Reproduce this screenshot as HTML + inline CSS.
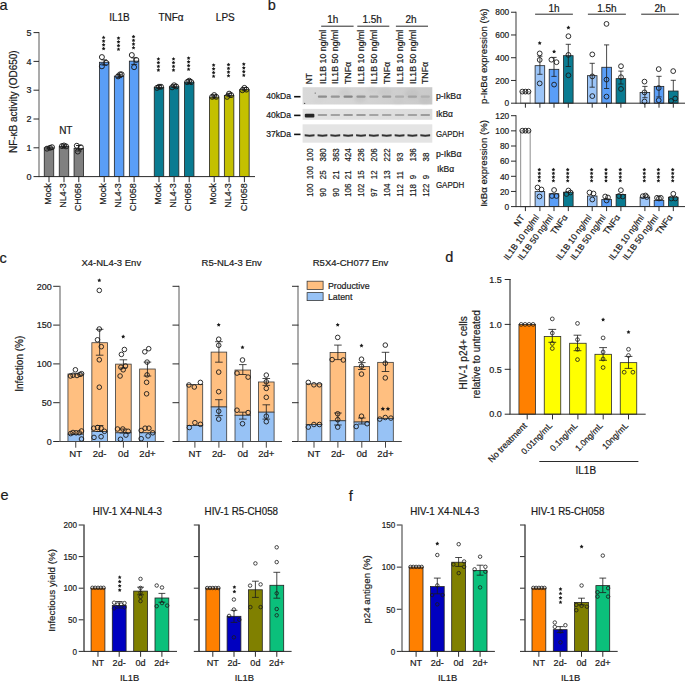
<!DOCTYPE html>
<html><head><meta charset="utf-8"><style>
html,body{margin:0;padding:0;background:#fff;}
svg{display:block;font-family:"Liberation Sans", sans-serif;}
text{stroke:#1a1a1a;stroke-width:0.2px;}
</style></head><body>
<svg width="685" height="681" viewBox="0 0 685 681">
<rect x="0" y="0" width="685" height="681" fill="#fff"/>
<text x="-0.6" y="10.2" font-size="14.5" text-anchor="start" fill="#1a1a1a">a</text>
<text x="267.8" y="9.9" font-size="14.5" text-anchor="start" fill="#1a1a1a">b</text>
<text x="-0.5" y="262.6" font-size="14.5" text-anchor="start" fill="#1a1a1a">c</text>
<text x="445.3" y="262.3" font-size="14.5" text-anchor="start" fill="#1a1a1a">d</text>
<text x="0.4" y="499.7" font-size="14.5" text-anchor="start" fill="#1a1a1a">e</text>
<text x="348.8" y="500.8" font-size="14.5" text-anchor="start" fill="#1a1a1a">f</text>
<rect x="38" y="32.1" width="2" height="145" fill="#ababab"/>
<line x1="33.5" y1="176.6" x2="39" y2="176.6" stroke="#2b2b2b" stroke-width="1"/>
<text x="31.5" y="179.84" font-size="9" text-anchor="end" fill="#1a1a1a">0</text>
<line x1="33.5" y1="147.8" x2="39" y2="147.8" stroke="#2b2b2b" stroke-width="1"/>
<text x="31.5" y="151.04" font-size="9" text-anchor="end" fill="#1a1a1a">1</text>
<line x1="33.5" y1="119" x2="39" y2="119" stroke="#2b2b2b" stroke-width="1"/>
<text x="31.5" y="122.24" font-size="9" text-anchor="end" fill="#1a1a1a">2</text>
<line x1="33.5" y1="90.2" x2="39" y2="90.2" stroke="#2b2b2b" stroke-width="1"/>
<text x="31.5" y="93.44" font-size="9" text-anchor="end" fill="#1a1a1a">3</text>
<line x1="33.5" y1="61.4" x2="39" y2="61.4" stroke="#2b2b2b" stroke-width="1"/>
<text x="31.5" y="64.64" font-size="9" text-anchor="end" fill="#1a1a1a">4</text>
<line x1="33.5" y1="32.6" x2="39" y2="32.6" stroke="#2b2b2b" stroke-width="1"/>
<text x="31.5" y="35.84" font-size="9" text-anchor="end" fill="#1a1a1a">5</text>
<rect x="44.25" y="147.8" width="9.5" height="28.8" fill="#808080" stroke="#222" stroke-width="0.8"/>
<rect x="59.25" y="146.36" width="9.5" height="30.24" fill="#808080" stroke="#222" stroke-width="0.8"/>
<rect x="74.05" y="148.38" width="9.5" height="28.22" fill="#808080" stroke="#222" stroke-width="0.8"/>
<rect x="99.45" y="62.26" width="9.5" height="114.34" fill="#5a9ef7" stroke="#222" stroke-width="0.8"/>
<rect x="114.35" y="76.09" width="9.5" height="100.51" fill="#5a9ef7" stroke="#222" stroke-width="0.8"/>
<rect x="129.35" y="61.11" width="9.5" height="115.49" fill="#5a9ef7" stroke="#222" stroke-width="0.8"/>
<rect x="154.25" y="87.32" width="9.5" height="89.28" fill="#0a7b91" stroke="#222" stroke-width="0.8"/>
<rect x="169.35" y="86.74" width="9.5" height="89.86" fill="#0a7b91" stroke="#222" stroke-width="0.8"/>
<rect x="184.45" y="82.14" width="9.5" height="94.46" fill="#0a7b91" stroke="#222" stroke-width="0.8"/>
<rect x="209.45" y="97.11" width="9.5" height="79.49" fill="#c4c000" stroke="#222" stroke-width="0.8"/>
<rect x="224.35" y="95.38" width="9.5" height="81.22" fill="#c4c000" stroke="#222" stroke-width="0.8"/>
<rect x="239.65" y="89.62" width="9.5" height="86.98" fill="#c4c000" stroke="#222" stroke-width="0.8"/>
<line x1="39" y1="176.6" x2="255" y2="176.6" stroke="#2b2b2b" stroke-width="1"/>
<line x1="49" y1="176.6" x2="49" y2="182.2" stroke="#2b2b2b" stroke-width="1"/>
<line x1="64" y1="176.6" x2="64" y2="182.2" stroke="#2b2b2b" stroke-width="1"/>
<line x1="78.8" y1="176.6" x2="78.8" y2="182.2" stroke="#2b2b2b" stroke-width="1"/>
<line x1="104.2" y1="176.6" x2="104.2" y2="182.2" stroke="#2b2b2b" stroke-width="1"/>
<line x1="119.1" y1="176.6" x2="119.1" y2="182.2" stroke="#2b2b2b" stroke-width="1"/>
<line x1="134.1" y1="176.6" x2="134.1" y2="182.2" stroke="#2b2b2b" stroke-width="1"/>
<line x1="159" y1="176.6" x2="159" y2="182.2" stroke="#2b2b2b" stroke-width="1"/>
<line x1="174.1" y1="176.6" x2="174.1" y2="182.2" stroke="#2b2b2b" stroke-width="1"/>
<line x1="189.2" y1="176.6" x2="189.2" y2="182.2" stroke="#2b2b2b" stroke-width="1"/>
<line x1="214.2" y1="176.6" x2="214.2" y2="182.2" stroke="#2b2b2b" stroke-width="1"/>
<line x1="229.1" y1="176.6" x2="229.1" y2="182.2" stroke="#2b2b2b" stroke-width="1"/>
<line x1="244.4" y1="176.6" x2="244.4" y2="182.2" stroke="#2b2b2b" stroke-width="1"/>
<text font-size="9" text-anchor="end" fill="#1a1a1a" transform="translate(51.1 183.3) rotate(-90)">Mock</text>
<text font-size="9" text-anchor="end" fill="#1a1a1a" transform="translate(66.1 183.3) rotate(-90)">NL4-3</text>
<text font-size="9" text-anchor="end" fill="#1a1a1a" transform="translate(80.9 183.3) rotate(-90)">CH058</text>
<text font-size="9" text-anchor="end" fill="#1a1a1a" transform="translate(106.3 183.3) rotate(-90)">Mock</text>
<text font-size="9" text-anchor="end" fill="#1a1a1a" transform="translate(121.2 183.3) rotate(-90)">NL4-3</text>
<text font-size="9" text-anchor="end" fill="#1a1a1a" transform="translate(136.2 183.3) rotate(-90)">CH058</text>
<text font-size="9" text-anchor="end" fill="#1a1a1a" transform="translate(161.1 183.3) rotate(-90)">Mock</text>
<text font-size="9" text-anchor="end" fill="#1a1a1a" transform="translate(176.2 183.3) rotate(-90)">NL4-3</text>
<text font-size="9" text-anchor="end" fill="#1a1a1a" transform="translate(191.3 183.3) rotate(-90)">CH058</text>
<text font-size="9" text-anchor="end" fill="#1a1a1a" transform="translate(216.3 183.3) rotate(-90)">Mock</text>
<text font-size="9" text-anchor="end" fill="#1a1a1a" transform="translate(231.2 183.3) rotate(-90)">NL4-3</text>
<text font-size="9" text-anchor="end" fill="#1a1a1a" transform="translate(246.5 183.3) rotate(-90)">CH058</text>
<text x="65.8" y="133.5" font-size="10" text-anchor="middle" fill="#1a1a1a">NT</text>
<text x="119.5" y="21" font-size="10" text-anchor="middle" fill="#1a1a1a">IL1B</text>
<text x="171" y="21" font-size="10" text-anchor="middle" fill="#1a1a1a">TNFα</text>
<text x="225.3" y="21" font-size="10" text-anchor="middle" fill="#1a1a1a">LPS</text>
<circle cx="47" cy="148.66" r="2.5" fill="none" stroke="#1a1a1a" stroke-width="0.95"/>
<circle cx="50" cy="147.8" r="2.5" fill="none" stroke="#1a1a1a" stroke-width="0.95"/>
<circle cx="52" cy="147.22" r="2.5" fill="none" stroke="#1a1a1a" stroke-width="0.95"/>
<circle cx="62" cy="146.07" r="2.5" fill="none" stroke="#1a1a1a" stroke-width="0.95"/>
<circle cx="64" cy="145.5" r="2.5" fill="none" stroke="#1a1a1a" stroke-width="0.95"/>
<circle cx="66" cy="146.36" r="2.5" fill="none" stroke="#1a1a1a" stroke-width="0.95"/>
<circle cx="76.8" cy="145.78" r="2.5" fill="none" stroke="#1a1a1a" stroke-width="0.95"/>
<circle cx="80.8" cy="147.22" r="2.5" fill="none" stroke="#1a1a1a" stroke-width="0.95"/>
<circle cx="77.8" cy="151.54" r="2.5" fill="none" stroke="#1a1a1a" stroke-width="0.95"/>
<circle cx="101.9" cy="57.08" r="2.5" fill="none" stroke="#1a1a1a" stroke-width="0.95"/>
<circle cx="106.2" cy="62.84" r="2.5" fill="none" stroke="#1a1a1a" stroke-width="0.95"/>
<circle cx="101.9" cy="66.3" r="2.5" fill="none" stroke="#1a1a1a" stroke-width="0.95"/>
<circle cx="118.1" cy="76.38" r="2.5" fill="none" stroke="#1a1a1a" stroke-width="0.95"/>
<circle cx="120.1" cy="74.36" r="2.5" fill="none" stroke="#1a1a1a" stroke-width="0.95"/>
<circle cx="121.6" cy="74.36" r="2.5" fill="none" stroke="#1a1a1a" stroke-width="0.95"/>
<circle cx="131.8" cy="55.06" r="2.5" fill="none" stroke="#1a1a1a" stroke-width="0.95"/>
<circle cx="136.3" cy="59.96" r="2.5" fill="none" stroke="#1a1a1a" stroke-width="0.95"/>
<circle cx="134.1" cy="67.16" r="2.5" fill="none" stroke="#1a1a1a" stroke-width="0.95"/>
<circle cx="157" cy="87.9" r="2.5" fill="none" stroke="#1a1a1a" stroke-width="0.95"/>
<circle cx="159" cy="86.74" r="2.5" fill="none" stroke="#1a1a1a" stroke-width="0.95"/>
<circle cx="161" cy="86.74" r="2.5" fill="none" stroke="#1a1a1a" stroke-width="0.95"/>
<circle cx="172.1" cy="87.32" r="2.5" fill="none" stroke="#1a1a1a" stroke-width="0.95"/>
<circle cx="174.1" cy="85.3" r="2.5" fill="none" stroke="#1a1a1a" stroke-width="0.95"/>
<circle cx="176.1" cy="86.46" r="2.5" fill="none" stroke="#1a1a1a" stroke-width="0.95"/>
<circle cx="187.2" cy="82.14" r="2.5" fill="none" stroke="#1a1a1a" stroke-width="0.95"/>
<circle cx="189.2" cy="80.7" r="2.5" fill="none" stroke="#1a1a1a" stroke-width="0.95"/>
<circle cx="191.2" cy="82.14" r="2.5" fill="none" stroke="#1a1a1a" stroke-width="0.95"/>
<circle cx="212.2" cy="96.82" r="2.5" fill="none" stroke="#1a1a1a" stroke-width="0.95"/>
<circle cx="214.2" cy="95.1" r="2.5" fill="none" stroke="#1a1a1a" stroke-width="0.95"/>
<circle cx="216.2" cy="96.82" r="2.5" fill="none" stroke="#1a1a1a" stroke-width="0.95"/>
<circle cx="227.1" cy="96.82" r="2.5" fill="none" stroke="#1a1a1a" stroke-width="0.95"/>
<circle cx="229.1" cy="93.66" r="2.5" fill="none" stroke="#1a1a1a" stroke-width="0.95"/>
<circle cx="231.1" cy="95.1" r="2.5" fill="none" stroke="#1a1a1a" stroke-width="0.95"/>
<circle cx="242.4" cy="90.2" r="2.5" fill="none" stroke="#1a1a1a" stroke-width="0.95"/>
<circle cx="244.4" cy="87.9" r="2.5" fill="none" stroke="#1a1a1a" stroke-width="0.95"/>
<circle cx="246.4" cy="89.62" r="2.5" fill="none" stroke="#1a1a1a" stroke-width="0.95"/>
<line x1="104.2" y1="65" x2="104.2" y2="59.9" stroke="#1a1a1a" stroke-width="0.9"/>
<line x1="101.4" y1="59.9" x2="107" y2="59.9" stroke="#1a1a1a" stroke-width="0.9"/>
<line x1="101.4" y1="65" x2="107" y2="65" stroke="#1a1a1a" stroke-width="0.9"/>
<line x1="134.1" y1="64.4" x2="134.1" y2="57.9" stroke="#1a1a1a" stroke-width="0.9"/>
<line x1="131.3" y1="57.9" x2="136.9" y2="57.9" stroke="#1a1a1a" stroke-width="0.9"/>
<line x1="131.3" y1="64.4" x2="136.9" y2="64.4" stroke="#1a1a1a" stroke-width="0.9"/>
<line x1="119.1" y1="77.6" x2="119.1" y2="74.3" stroke="#1a1a1a" stroke-width="0.9"/>
<line x1="116.3" y1="74.3" x2="121.9" y2="74.3" stroke="#1a1a1a" stroke-width="0.9"/>
<line x1="116.3" y1="77.6" x2="121.9" y2="77.6" stroke="#1a1a1a" stroke-width="0.9"/>
<line x1="159" y1="88.2" x2="159" y2="85.6" stroke="#1a1a1a" stroke-width="0.9"/>
<line x1="156.2" y1="85.6" x2="161.8" y2="85.6" stroke="#1a1a1a" stroke-width="0.9"/>
<line x1="156.2" y1="88.2" x2="161.8" y2="88.2" stroke="#1a1a1a" stroke-width="0.9"/>
<line x1="174.1" y1="87.6" x2="174.1" y2="84.8" stroke="#1a1a1a" stroke-width="0.9"/>
<line x1="171.3" y1="84.8" x2="176.9" y2="84.8" stroke="#1a1a1a" stroke-width="0.9"/>
<line x1="171.3" y1="87.6" x2="176.9" y2="87.6" stroke="#1a1a1a" stroke-width="0.9"/>
<line x1="189.2" y1="83.6" x2="189.2" y2="79.6" stroke="#1a1a1a" stroke-width="0.9"/>
<line x1="186.4" y1="79.6" x2="192" y2="79.6" stroke="#1a1a1a" stroke-width="0.9"/>
<line x1="186.4" y1="83.6" x2="192" y2="83.6" stroke="#1a1a1a" stroke-width="0.9"/>
<line x1="214.2" y1="98" x2="214.2" y2="95.2" stroke="#1a1a1a" stroke-width="0.9"/>
<line x1="211.4" y1="95.2" x2="217" y2="95.2" stroke="#1a1a1a" stroke-width="0.9"/>
<line x1="211.4" y1="98" x2="217" y2="98" stroke="#1a1a1a" stroke-width="0.9"/>
<line x1="229.1" y1="96.8" x2="229.1" y2="93.4" stroke="#1a1a1a" stroke-width="0.9"/>
<line x1="226.3" y1="93.4" x2="231.9" y2="93.4" stroke="#1a1a1a" stroke-width="0.9"/>
<line x1="226.3" y1="96.8" x2="231.9" y2="96.8" stroke="#1a1a1a" stroke-width="0.9"/>
<line x1="244.4" y1="90.8" x2="244.4" y2="87.6" stroke="#1a1a1a" stroke-width="0.9"/>
<line x1="241.6" y1="87.6" x2="247.2" y2="87.6" stroke="#1a1a1a" stroke-width="0.9"/>
<line x1="241.6" y1="90.8" x2="247.2" y2="90.8" stroke="#1a1a1a" stroke-width="0.9"/>
<line x1="49" y1="149" x2="49" y2="147" stroke="#1a1a1a" stroke-width="0.9"/>
<line x1="46.2" y1="147" x2="51.8" y2="147" stroke="#1a1a1a" stroke-width="0.9"/>
<line x1="46.2" y1="149" x2="51.8" y2="149" stroke="#1a1a1a" stroke-width="0.9"/>
<line x1="64" y1="147" x2="64" y2="145" stroke="#1a1a1a" stroke-width="0.9"/>
<line x1="61.2" y1="145" x2="66.8" y2="145" stroke="#1a1a1a" stroke-width="0.9"/>
<line x1="61.2" y1="147" x2="66.8" y2="147" stroke="#1a1a1a" stroke-width="0.9"/>
<line x1="78.8" y1="151" x2="78.8" y2="145.5" stroke="#1a1a1a" stroke-width="0.9"/>
<line x1="76" y1="145.5" x2="81.6" y2="145.5" stroke="#1a1a1a" stroke-width="0.9"/>
<line x1="76" y1="151" x2="81.6" y2="151" stroke="#1a1a1a" stroke-width="0.9"/>
<polygon points="103.6,46.6 104.21,47.76 105.5,47.98 104.59,48.92 104.78,50.22 103.6,49.64 102.42,50.22 102.61,48.92 101.7,47.98 102.99,47.76" fill="#1a1a1a"/>
<polygon points="103.6,42.9 104.21,44.06 105.5,44.28 104.59,45.22 104.78,46.52 103.6,45.94 102.42,46.52 102.61,45.22 101.7,44.28 102.99,44.06" fill="#1a1a1a"/>
<polygon points="103.6,39.2 104.21,40.36 105.5,40.58 104.59,41.52 104.78,42.82 103.6,42.24 102.42,42.82 102.61,41.52 101.7,40.58 102.99,40.36" fill="#1a1a1a"/>
<polygon points="103.6,35.5 104.21,36.66 105.5,36.88 104.59,37.82 104.78,39.12 103.6,38.54 102.42,39.12 102.61,37.82 101.7,36.88 102.99,36.66" fill="#1a1a1a"/>
<polygon points="118.5,47.3 119.11,48.46 120.4,48.68 119.49,49.62 119.68,50.92 118.5,50.34 117.32,50.92 117.51,49.62 116.6,48.68 117.89,48.46" fill="#1a1a1a"/>
<polygon points="118.5,43.6 119.11,44.76 120.4,44.98 119.49,45.92 119.68,47.22 118.5,46.64 117.32,47.22 117.51,45.92 116.6,44.98 117.89,44.76" fill="#1a1a1a"/>
<polygon points="118.5,39.9 119.11,41.06 120.4,41.28 119.49,42.22 119.68,43.52 118.5,42.94 117.32,43.52 117.51,42.22 116.6,41.28 117.89,41.06" fill="#1a1a1a"/>
<polygon points="118.5,36.2 119.11,37.36 120.4,37.58 119.49,38.52 119.68,39.82 118.5,39.24 117.32,39.82 117.51,38.52 116.6,37.58 117.89,37.36" fill="#1a1a1a"/>
<polygon points="133.5,45.8 134.11,46.96 135.4,47.18 134.49,48.12 134.68,49.42 133.5,48.84 132.32,49.42 132.51,48.12 131.6,47.18 132.89,46.96" fill="#1a1a1a"/>
<polygon points="133.5,42.1 134.11,43.26 135.4,43.48 134.49,44.42 134.68,45.72 133.5,45.14 132.32,45.72 132.51,44.42 131.6,43.48 132.89,43.26" fill="#1a1a1a"/>
<polygon points="133.5,38.4 134.11,39.56 135.4,39.78 134.49,40.72 134.68,42.02 133.5,41.44 132.32,42.02 132.51,40.72 131.6,39.78 132.89,39.56" fill="#1a1a1a"/>
<polygon points="133.5,34.7 134.11,35.86 135.4,36.08 134.49,37.02 134.68,38.32 133.5,37.74 132.32,38.32 132.51,37.02 131.6,36.08 132.89,35.86" fill="#1a1a1a"/>
<polygon points="158.4,68.1 159.01,69.26 160.3,69.48 159.39,70.42 159.58,71.72 158.4,71.14 157.22,71.72 157.41,70.42 156.5,69.48 157.79,69.26" fill="#1a1a1a"/>
<polygon points="158.4,64.4 159.01,65.56 160.3,65.78 159.39,66.72 159.58,68.02 158.4,67.44 157.22,68.02 157.41,66.72 156.5,65.78 157.79,65.56" fill="#1a1a1a"/>
<polygon points="158.4,60.7 159.01,61.86 160.3,62.08 159.39,63.02 159.58,64.32 158.4,63.74 157.22,64.32 157.41,63.02 156.5,62.08 157.79,61.86" fill="#1a1a1a"/>
<polygon points="158.4,57 159.01,58.16 160.3,58.38 159.39,59.32 159.58,60.62 158.4,60.04 157.22,60.62 157.41,59.32 156.5,58.38 157.79,58.16" fill="#1a1a1a"/>
<polygon points="173.5,68.1 174.11,69.26 175.4,69.48 174.49,70.42 174.68,71.72 173.5,71.14 172.32,71.72 172.51,70.42 171.6,69.48 172.89,69.26" fill="#1a1a1a"/>
<polygon points="173.5,64.4 174.11,65.56 175.4,65.78 174.49,66.72 174.68,68.02 173.5,67.44 172.32,68.02 172.51,66.72 171.6,65.78 172.89,65.56" fill="#1a1a1a"/>
<polygon points="173.5,60.7 174.11,61.86 175.4,62.08 174.49,63.02 174.68,64.32 173.5,63.74 172.32,64.32 172.51,63.02 171.6,62.08 172.89,61.86" fill="#1a1a1a"/>
<polygon points="173.5,57 174.11,58.16 175.4,58.38 174.49,59.32 174.68,60.62 173.5,60.04 172.32,60.62 172.51,59.32 171.6,58.38 172.89,58.16" fill="#1a1a1a"/>
<polygon points="188.6,67.3 189.21,68.46 190.5,68.68 189.59,69.62 189.78,70.92 188.6,70.34 187.42,70.92 187.61,69.62 186.7,68.68 187.99,68.46" fill="#1a1a1a"/>
<polygon points="188.6,63.6 189.21,64.76 190.5,64.98 189.59,65.92 189.78,67.22 188.6,66.64 187.42,67.22 187.61,65.92 186.7,64.98 187.99,64.76" fill="#1a1a1a"/>
<polygon points="188.6,59.9 189.21,61.06 190.5,61.28 189.59,62.22 189.78,63.52 188.6,62.94 187.42,63.52 187.61,62.22 186.7,61.28 187.99,61.06" fill="#1a1a1a"/>
<polygon points="188.6,56.2 189.21,57.36 190.5,57.58 189.59,58.52 189.78,59.82 188.6,59.24 187.42,59.82 187.61,58.52 186.7,57.58 187.99,57.36" fill="#1a1a1a"/>
<polygon points="213.6,74.3 214.21,75.46 215.5,75.68 214.59,76.62 214.78,77.92 213.6,77.34 212.42,77.92 212.61,76.62 211.7,75.68 212.99,75.46" fill="#1a1a1a"/>
<polygon points="213.6,70.6 214.21,71.76 215.5,71.98 214.59,72.92 214.78,74.22 213.6,73.64 212.42,74.22 212.61,72.92 211.7,71.98 212.99,71.76" fill="#1a1a1a"/>
<polygon points="213.6,66.9 214.21,68.06 215.5,68.28 214.59,69.22 214.78,70.52 213.6,69.94 212.42,70.52 212.61,69.22 211.7,68.28 212.99,68.06" fill="#1a1a1a"/>
<polygon points="213.6,63.2 214.21,64.36 215.5,64.58 214.59,65.52 214.78,66.82 213.6,66.24 212.42,66.82 212.61,65.52 211.7,64.58 212.99,64.36" fill="#1a1a1a"/>
<polygon points="228.5,73.8 229.11,74.96 230.4,75.18 229.49,76.12 229.68,77.42 228.5,76.84 227.32,77.42 227.51,76.12 226.6,75.18 227.89,74.96" fill="#1a1a1a"/>
<polygon points="228.5,70.1 229.11,71.26 230.4,71.48 229.49,72.42 229.68,73.72 228.5,73.14 227.32,73.72 227.51,72.42 226.6,71.48 227.89,71.26" fill="#1a1a1a"/>
<polygon points="228.5,66.4 229.11,67.56 230.4,67.78 229.49,68.72 229.68,70.02 228.5,69.44 227.32,70.02 227.51,68.72 226.6,67.78 227.89,67.56" fill="#1a1a1a"/>
<polygon points="228.5,62.7 229.11,63.86 230.4,64.08 229.49,65.02 229.68,66.32 228.5,65.74 227.32,66.32 227.51,65.02 226.6,64.08 227.89,63.86" fill="#1a1a1a"/>
<polygon points="243.8,73.3 244.41,74.46 245.7,74.68 244.79,75.62 244.98,76.92 243.8,76.34 242.62,76.92 242.81,75.62 241.9,74.68 243.19,74.46" fill="#1a1a1a"/>
<polygon points="243.8,69.6 244.41,70.76 245.7,70.98 244.79,71.92 244.98,73.22 243.8,72.64 242.62,73.22 242.81,71.92 241.9,70.98 243.19,70.76" fill="#1a1a1a"/>
<polygon points="243.8,65.9 244.41,67.06 245.7,67.28 244.79,68.22 244.98,69.52 243.8,68.94 242.62,69.52 242.81,68.22 241.9,67.28 243.19,67.06" fill="#1a1a1a"/>
<polygon points="243.8,62.2 244.41,63.36 245.7,63.58 244.79,64.52 244.98,65.82 243.8,65.24 242.62,65.82 242.81,64.52 241.9,63.58 243.19,63.36" fill="#1a1a1a"/>
<text font-size="10" text-anchor="middle" fill="#1a1a1a" transform="translate(16.8 101.7) rotate(-90)">NF-κB activity (OD650)</text>
<line x1="321.2" y1="26.2" x2="353.6" y2="26.2" stroke="#2b2b2b" stroke-width="1"/>
<text x="332.8" y="22.8" font-size="10" text-anchor="middle" fill="#1a1a1a">1h</text>
<line x1="357.3" y1="26.2" x2="389.3" y2="26.2" stroke="#2b2b2b" stroke-width="1"/>
<text x="372.2" y="22.8" font-size="10" text-anchor="middle" fill="#1a1a1a">1.5h</text>
<line x1="395.9" y1="26.2" x2="428" y2="26.2" stroke="#2b2b2b" stroke-width="1"/>
<text x="411" y="22.8" font-size="10" text-anchor="middle" fill="#1a1a1a">2h</text>
<text font-size="8.3" text-anchor="start" fill="#1a1a1a" transform="translate(312.3 84.3) rotate(-90)">NT</text>
<text font-size="8.8" text-anchor="start" fill="#1a1a1a" transform="translate(325.55 84) rotate(-90)">IL1B 10 ng/ml</text>
<text font-size="8.8" text-anchor="start" fill="#1a1a1a" transform="translate(338.4 84) rotate(-90)">IL1B 50 ng/ml</text>
<text font-size="8.8" text-anchor="start" fill="#1a1a1a" transform="translate(351.25 84) rotate(-90)">TNFα</text>
<text font-size="8.8" text-anchor="start" fill="#1a1a1a" transform="translate(364.1 84) rotate(-90)">IL1B 10 ng/ml</text>
<text font-size="8.8" text-anchor="start" fill="#1a1a1a" transform="translate(376.95 84) rotate(-90)">IL1B 50 ng/ml</text>
<text font-size="8.8" text-anchor="start" fill="#1a1a1a" transform="translate(389.8 84) rotate(-90)">TNFα</text>
<text font-size="8.8" text-anchor="start" fill="#1a1a1a" transform="translate(402.65 84) rotate(-90)">IL1B 10 ng/ml</text>
<text font-size="8.8" text-anchor="start" fill="#1a1a1a" transform="translate(415.5 84) rotate(-90)">IL1B 50 ng/ml</text>
<text font-size="8.8" text-anchor="start" fill="#1a1a1a" transform="translate(428.35 84) rotate(-90)">TNFα</text>
<defs><filter id="bl" x="-20%" y="-80%" width="140%" height="260%"><feGaussianBlur stdDeviation="0.55"/></filter><filter id="bl2" x="-20%" y="-80%" width="140%" height="260%"><feGaussianBlur stdDeviation="0.5"/></filter><filter id="bl3" x="-20%" y="-20%" width="140%" height="140%"><feGaussianBlur stdDeviation="1.4"/></filter><linearGradient id="g1" x1="0" y1="0" x2="1" y2="0"><stop offset="0" stop-color="#d9d9d9"/><stop offset="0.45" stop-color="#d4d4d4"/><stop offset="1" stop-color="#c9c9c9"/></linearGradient><linearGradient id="g2" x1="0" y1="0" x2="1" y2="0"><stop offset="0" stop-color="#e3e3e3"/><stop offset="1" stop-color="#dcdcdc"/></linearGradient></defs>
<rect x="302.6" y="87.2" width="129.7" height="17.3" fill="url(#g1)"/>
<rect x="302.6" y="108.9" width="129.7" height="10.9" fill="url(#g2)"/>
<rect x="302.6" y="124.3" width="129.7" height="18.4" fill="#e4e4e4"/>
<ellipse cx="345" cy="93" rx="6" ry="4" fill="#c4c4c4" opacity="0.5" filter="url(#bl3)"/>
<ellipse cx="360" cy="99" rx="6" ry="4" fill="#c0c0c0" opacity="0.45" filter="url(#bl3)"/>
<ellipse cx="385" cy="92" rx="7" ry="4" fill="#c2c2c2" opacity="0.5" filter="url(#bl3)"/>
<ellipse cx="412" cy="94" rx="7" ry="5" fill="#bdbdbd" opacity="0.5" filter="url(#bl3)"/>
<ellipse cx="425" cy="100" rx="6" ry="4" fill="#bcbcbc" opacity="0.5" filter="url(#bl3)"/>
<ellipse cx="398" cy="101" rx="6" ry="3" fill="#c4c4c4" opacity="0.4" filter="url(#bl3)"/>
<ellipse cx="372" cy="90" rx="5" ry="3" fill="#c8c8c8" opacity="0.4" filter="url(#bl3)"/>
<ellipse cx="318" cy="100" rx="6" ry="3" fill="#d0d0d0" opacity="0.4" filter="url(#bl3)"/>
<rect x="317.85" y="95.5" width="9.2" height="2.3" rx="1" fill="#8e8e8e" filter="url(#bl)"/>
<rect x="330.7" y="95.5" width="9.2" height="2.3" rx="1" fill="#969696" filter="url(#bl)"/>
<rect x="343.55" y="95.5" width="9.2" height="2.3" rx="1" fill="#858585" filter="url(#bl)"/>
<rect x="356.4" y="95.5" width="9.2" height="2.3" rx="1" fill="#949494" filter="url(#bl)"/>
<rect x="369.25" y="95.5" width="9.2" height="2.3" rx="1" fill="#a2a2a2" filter="url(#bl)"/>
<rect x="382.1" y="95.5" width="9.2" height="2.3" rx="1" fill="#9a9a9a" filter="url(#bl)"/>
<rect x="394.95" y="95.5" width="9.2" height="2.3" rx="1" fill="#acacac" filter="url(#bl)"/>
<rect x="407.8" y="95.5" width="9.2" height="2.3" rx="1" fill="#a3a3a3" filter="url(#bl)"/>
<rect x="420.65" y="95.5" width="9.2" height="2.3" rx="1" fill="#b0b0b0" filter="url(#bl)"/>
<rect x="304.8" y="113.8" width="9.6" height="3.6" rx="1" fill="#262626" filter="url(#bl2)"/>
<rect x="317.65" y="113.9" width="9.6" height="2" rx="1" fill="#a0a0a0" filter="url(#bl2)"/>
<rect x="330.5" y="113.9" width="9.6" height="2" rx="1" fill="#a2a2a2" filter="url(#bl2)"/>
<rect x="343.35" y="113.9" width="9.6" height="2" rx="1" fill="#999999" filter="url(#bl2)"/>
<rect x="356.2" y="113.9" width="9.6" height="2" rx="1" fill="#9c9c9c" filter="url(#bl2)"/>
<rect x="369.05" y="113.9" width="9.6" height="2" rx="1" fill="#a4a4a4" filter="url(#bl2)"/>
<rect x="381.9" y="113.9" width="9.6" height="2" rx="1" fill="#a6a6a6" filter="url(#bl2)"/>
<rect x="394.75" y="113.9" width="9.6" height="2" rx="1" fill="#a8a8a8" filter="url(#bl2)"/>
<rect x="407.6" y="113.9" width="9.6" height="2" rx="1" fill="#a2a2a2" filter="url(#bl2)"/>
<rect x="420.45" y="113.9" width="9.6" height="2" rx="1" fill="#9c9c9c" filter="url(#bl2)"/>
<path d="M304.7,134.2 Q309.6,135.1 314.5,134.2 L314.5,136.3 Q309.6,137.2 304.7,136.3 Z" fill="#303030" filter="url(#bl2)"/>
<path d="M317.55,134.2 Q322.45,135.1 327.35,134.2 L327.35,136.3 Q322.45,137.2 317.55,136.3 Z" fill="#303030" filter="url(#bl2)"/>
<path d="M330.4,134.2 Q335.3,135.1 340.2,134.2 L340.2,136.3 Q335.3,137.2 330.4,136.3 Z" fill="#303030" filter="url(#bl2)"/>
<path d="M343.25,134.2 Q348.15,135.1 353.05,134.2 L353.05,136.3 Q348.15,137.2 343.25,136.3 Z" fill="#303030" filter="url(#bl2)"/>
<path d="M356.1,134.2 Q361,135.1 365.9,134.2 L365.9,136.3 Q361,137.2 356.1,136.3 Z" fill="#303030" filter="url(#bl2)"/>
<path d="M368.95,134.2 Q373.85,135.1 378.75,134.2 L378.75,136.3 Q373.85,137.2 368.95,136.3 Z" fill="#303030" filter="url(#bl2)"/>
<path d="M381.8,134.2 Q386.7,135.1 391.6,134.2 L391.6,136.3 Q386.7,137.2 381.8,136.3 Z" fill="#303030" filter="url(#bl2)"/>
<path d="M394.65,134.2 Q399.55,135.1 404.45,134.2 L404.45,136.3 Q399.55,137.2 394.65,136.3 Z" fill="#303030" filter="url(#bl2)"/>
<path d="M407.5,134.2 Q412.4,135.1 417.3,134.2 L417.3,136.3 Q412.4,137.2 407.5,136.3 Z" fill="#303030" filter="url(#bl2)"/>
<path d="M420.35,134.2 Q425.25,135.1 430.15,134.2 L430.15,136.3 Q425.25,137.2 420.35,136.3 Z" fill="#303030" filter="url(#bl2)"/>
<circle cx="315.2" cy="93.1" r="0.6" fill="#555"/>
<circle cx="304.6" cy="103.4" r="0.7" fill="#555"/>
<text x="291" y="99.1" font-size="8.6" text-anchor="end" fill="#1a1a1a">40kDa</text>
<line x1="294.1" y1="96.7" x2="300.5" y2="96.7" stroke="#111" stroke-width="1.6"/>
<text x="291" y="117.8" font-size="8.6" text-anchor="end" fill="#1a1a1a">40kDa</text>
<line x1="294.1" y1="115.4" x2="300.5" y2="115.4" stroke="#111" stroke-width="1.6"/>
<text x="291" y="136.8" font-size="8.6" text-anchor="end" fill="#1a1a1a">37kDa</text>
<line x1="294.1" y1="134.4" x2="300.5" y2="134.4" stroke="#111" stroke-width="1.6"/>
<text font-size="9.2" text-anchor="start" fill="#1a1a1a" transform="translate(435.9 98.8) scale(0.945 1.000)">p-IkBα</text>
<text font-size="9.2" text-anchor="start" fill="#1a1a1a" transform="translate(435.9 117.4) scale(0.920 1.000)">IkBα</text>
<text font-size="9.2" text-anchor="start" fill="#1a1a1a" transform="translate(435.9 136.8) scale(0.860 1.000)">GAPDH</text>
<text font-size="8.8" text-anchor="start" fill="#1a1a1a" transform="translate(312.9 161.5) rotate(-90) scale(0.900 1.000)">100</text>
<text font-size="8.8" text-anchor="start" fill="#1a1a1a" transform="translate(325.75 161.5) rotate(-90) scale(0.900 1.000)">380</text>
<text font-size="8.8" text-anchor="start" fill="#1a1a1a" transform="translate(338.6 161.5) rotate(-90) scale(0.900 1.000)">363</text>
<text font-size="8.8" text-anchor="start" fill="#1a1a1a" transform="translate(351.45 161.5) rotate(-90) scale(0.900 1.000)">424</text>
<text font-size="8.8" text-anchor="start" fill="#1a1a1a" transform="translate(364.3 161.5) rotate(-90) scale(0.900 1.000)">236</text>
<text font-size="8.8" text-anchor="start" fill="#1a1a1a" transform="translate(377.15 161.5) rotate(-90) scale(0.900 1.000)">206</text>
<text font-size="8.8" text-anchor="start" fill="#1a1a1a" transform="translate(390 161.5) rotate(-90) scale(0.900 1.000)">222</text>
<text font-size="8.8" text-anchor="start" fill="#1a1a1a" transform="translate(402.85 161.5) rotate(-90) scale(0.900 1.000)">93</text>
<text font-size="8.8" text-anchor="start" fill="#1a1a1a" transform="translate(415.7 161.5) rotate(-90) scale(0.900 1.000)">136</text>
<text font-size="8.8" text-anchor="start" fill="#1a1a1a" transform="translate(428.55 161.5) rotate(-90) scale(0.900 1.000)">38</text>
<text font-size="8.8" text-anchor="start" fill="#1a1a1a" transform="translate(312.9 179.2) rotate(-90) scale(0.900 1.000)">100</text>
<text font-size="8.8" text-anchor="start" fill="#1a1a1a" transform="translate(325.75 179.2) rotate(-90) scale(0.900 1.000)">25</text>
<text font-size="8.8" text-anchor="start" fill="#1a1a1a" transform="translate(338.6 179.2) rotate(-90) scale(0.900 1.000)">21</text>
<text font-size="8.8" text-anchor="start" fill="#1a1a1a" transform="translate(351.45 179.2) rotate(-90) scale(0.900 1.000)">21</text>
<text font-size="8.8" text-anchor="start" fill="#1a1a1a" transform="translate(364.3 179.2) rotate(-90) scale(0.900 1.000)">15</text>
<text font-size="8.8" text-anchor="start" fill="#1a1a1a" transform="translate(377.15 179.2) rotate(-90) scale(0.900 1.000)">12</text>
<text font-size="8.8" text-anchor="start" fill="#1a1a1a" transform="translate(390 179.2) rotate(-90) scale(0.900 1.000)">13</text>
<text font-size="8.8" text-anchor="start" fill="#1a1a1a" transform="translate(402.85 179.2) rotate(-90) scale(0.900 1.000)">11</text>
<text font-size="8.8" text-anchor="start" fill="#1a1a1a" transform="translate(415.7 179.2) rotate(-90) scale(0.900 1.000)">9</text>
<text font-size="8.8" text-anchor="start" fill="#1a1a1a" transform="translate(428.55 179.2) rotate(-90) scale(0.900 1.000)">9</text>
<text font-size="8.8" text-anchor="start" fill="#1a1a1a" transform="translate(312.9 196.8) rotate(-90) scale(0.900 1.000)">100</text>
<text font-size="8.8" text-anchor="start" fill="#1a1a1a" transform="translate(325.75 196.8) rotate(-90) scale(0.900 1.000)">90</text>
<text font-size="8.8" text-anchor="start" fill="#1a1a1a" transform="translate(338.6 196.8) rotate(-90) scale(0.900 1.000)">90</text>
<text font-size="8.8" text-anchor="start" fill="#1a1a1a" transform="translate(351.45 196.8) rotate(-90) scale(0.900 1.000)">106</text>
<text font-size="8.8" text-anchor="start" fill="#1a1a1a" transform="translate(364.3 196.8) rotate(-90) scale(0.900 1.000)">102</text>
<text font-size="8.8" text-anchor="start" fill="#1a1a1a" transform="translate(377.15 196.8) rotate(-90) scale(0.900 1.000)">97</text>
<text font-size="8.8" text-anchor="start" fill="#1a1a1a" transform="translate(390 196.8) rotate(-90) scale(0.900 1.000)">104</text>
<text font-size="8.8" text-anchor="start" fill="#1a1a1a" transform="translate(402.85 196.8) rotate(-90) scale(0.900 1.000)">112</text>
<text font-size="8.8" text-anchor="start" fill="#1a1a1a" transform="translate(415.7 196.8) rotate(-90) scale(0.900 1.000)">118</text>
<text font-size="8.8" text-anchor="start" fill="#1a1a1a" transform="translate(428.55 196.8) rotate(-90) scale(0.900 1.000)">122</text>
<text font-size="9.2" text-anchor="start" fill="#1a1a1a" transform="translate(435.9 156.9) scale(0.960 1.000)">p-IkBα</text>
<text font-size="9.2" text-anchor="start" fill="#1a1a1a" transform="translate(436.9 172.2) scale(0.930 1.000)">IkBα</text>
<text font-size="9.2" text-anchor="start" fill="#1a1a1a" transform="translate(435.9 187.9) scale(0.870 1.000)">GAPDH</text>
<rect x="515" y="11.74" width="2" height="91.96" fill="#9c9c9c"/>
<line x1="511" y1="103.2" x2="516" y2="103.2" stroke="#2b2b2b" stroke-width="1"/>
<text font-size="9" text-anchor="end" fill="#1a1a1a" transform="translate(509.2 106.44) scale(0.930 1.000)">0</text>
<line x1="511" y1="80.46" x2="516" y2="80.46" stroke="#2b2b2b" stroke-width="1"/>
<text font-size="9" text-anchor="end" fill="#1a1a1a" transform="translate(509.2 83.7) scale(0.930 1.000)">200</text>
<line x1="511" y1="57.72" x2="516" y2="57.72" stroke="#2b2b2b" stroke-width="1"/>
<text font-size="9" text-anchor="end" fill="#1a1a1a" transform="translate(509.2 60.96) scale(0.930 1.000)">400</text>
<line x1="511" y1="34.98" x2="516" y2="34.98" stroke="#2b2b2b" stroke-width="1"/>
<text font-size="9" text-anchor="end" fill="#1a1a1a" transform="translate(509.2 38.22) scale(0.930 1.000)">600</text>
<line x1="511" y1="12.24" x2="516" y2="12.24" stroke="#2b2b2b" stroke-width="1"/>
<text font-size="9" text-anchor="end" fill="#1a1a1a" transform="translate(509.2 15.48) scale(0.930 1.000)">800</text>
<rect x="520.6" y="91.83" width="9.6" height="11.37" fill="#ffffff" stroke="#a0a0a0" stroke-width="1.2"/>
<rect x="535.1" y="65.68" width="9.6" height="37.52" fill="#9cc5f8" stroke="#222" stroke-width="0.8"/>
<rect x="549.2" y="69.32" width="9.6" height="33.88" fill="#5a9ef7" stroke="#222" stroke-width="0.8"/>
<rect x="563.5" y="55.67" width="9.6" height="47.53" fill="#0a7b91" stroke="#222" stroke-width="0.8"/>
<rect x="587.4" y="75.68" width="9.6" height="27.52" fill="#9cc5f8" stroke="#222" stroke-width="0.8"/>
<rect x="601.8" y="67.27" width="9.6" height="35.93" fill="#5a9ef7" stroke="#222" stroke-width="0.8"/>
<rect x="616.1" y="78.64" width="9.6" height="24.56" fill="#0a7b91" stroke="#222" stroke-width="0.8"/>
<rect x="640.1" y="92.4" width="9.6" height="10.8" fill="#9cc5f8" stroke="#222" stroke-width="0.8"/>
<rect x="654.2" y="86.37" width="9.6" height="16.83" fill="#5a9ef7" stroke="#222" stroke-width="0.8"/>
<rect x="668.5" y="91.03" width="9.6" height="12.17" fill="#0a7b91" stroke="#222" stroke-width="0.8"/>
<line x1="516" y1="103.2" x2="685" y2="103.2" stroke="#2b2b2b" stroke-width="1"/>
<line x1="525.4" y1="103.2" x2="525.4" y2="107.7" stroke="#2b2b2b" stroke-width="1"/>
<line x1="539.9" y1="103.2" x2="539.9" y2="107.7" stroke="#2b2b2b" stroke-width="1"/>
<line x1="554" y1="103.2" x2="554" y2="107.7" stroke="#2b2b2b" stroke-width="1"/>
<line x1="568.3" y1="103.2" x2="568.3" y2="107.7" stroke="#2b2b2b" stroke-width="1"/>
<line x1="592.2" y1="103.2" x2="592.2" y2="107.7" stroke="#2b2b2b" stroke-width="1"/>
<line x1="606.6" y1="103.2" x2="606.6" y2="107.7" stroke="#2b2b2b" stroke-width="1"/>
<line x1="620.9" y1="103.2" x2="620.9" y2="107.7" stroke="#2b2b2b" stroke-width="1"/>
<line x1="644.9" y1="103.2" x2="644.9" y2="107.7" stroke="#2b2b2b" stroke-width="1"/>
<line x1="659" y1="103.2" x2="659" y2="107.7" stroke="#2b2b2b" stroke-width="1"/>
<line x1="673.3" y1="103.2" x2="673.3" y2="107.7" stroke="#2b2b2b" stroke-width="1"/>
<line x1="535.1" y1="14.2" x2="572.9" y2="14.2" stroke="#2b2b2b" stroke-width="1"/>
<text x="554" y="11.8" font-size="10" text-anchor="middle" fill="#1a1a1a">1h</text>
<line x1="587.9" y1="14.2" x2="625.9" y2="14.2" stroke="#2b2b2b" stroke-width="1"/>
<text x="606.9" y="11.8" font-size="10" text-anchor="middle" fill="#1a1a1a">1.5h</text>
<line x1="641.2" y1="14.2" x2="678.9" y2="14.2" stroke="#2b2b2b" stroke-width="1"/>
<text x="660.05" y="11.8" font-size="10" text-anchor="middle" fill="#1a1a1a">2h</text>
<text font-size="9.7" text-anchor="middle" fill="#1a1a1a" transform="translate(487 56.2) rotate(-90)">p-IκBα expression (%)</text>
<circle cx="522.3" cy="91.6" r="2.4" fill="none" stroke="#1a1a1a" stroke-width="0.9"/>
<circle cx="525.4" cy="91.6" r="2.4" fill="none" stroke="#1a1a1a" stroke-width="0.9"/>
<circle cx="528.5" cy="91.6" r="2.4" fill="none" stroke="#1a1a1a" stroke-width="0.9"/>
<line x1="539.9" y1="74.3" x2="539.9" y2="56.2" stroke="#1a1a1a" stroke-width="0.8"/>
<line x1="537.3" y1="56.2" x2="542.5" y2="56.2" stroke="#1a1a1a" stroke-width="0.8"/>
<line x1="537.3" y1="74.3" x2="542.5" y2="74.3" stroke="#1a1a1a" stroke-width="0.8"/>
<circle cx="539.7" cy="53.4" r="2.4" fill="none" stroke="#1a1a1a" stroke-width="0.9"/>
<circle cx="539.7" cy="59.9" r="2.4" fill="none" stroke="#1a1a1a" stroke-width="0.9"/>
<circle cx="539.7" cy="83.4" r="2.4" fill="none" stroke="#1a1a1a" stroke-width="0.9"/>
<line x1="554" y1="76.4" x2="554" y2="57.4" stroke="#1a1a1a" stroke-width="0.8"/>
<line x1="551.4" y1="57.4" x2="556.6" y2="57.4" stroke="#1a1a1a" stroke-width="0.8"/>
<line x1="551.4" y1="76.4" x2="556.6" y2="76.4" stroke="#1a1a1a" stroke-width="0.8"/>
<circle cx="551.4" cy="59.7" r="2.4" fill="none" stroke="#1a1a1a" stroke-width="0.9"/>
<circle cx="556.5" cy="62.2" r="2.4" fill="none" stroke="#1a1a1a" stroke-width="0.9"/>
<circle cx="554.1" cy="84.6" r="2.4" fill="none" stroke="#1a1a1a" stroke-width="0.9"/>
<line x1="568.3" y1="66.5" x2="568.3" y2="44.3" stroke="#1a1a1a" stroke-width="0.8"/>
<line x1="565.7" y1="44.3" x2="570.9" y2="44.3" stroke="#1a1a1a" stroke-width="0.8"/>
<line x1="565.7" y1="66.5" x2="570.9" y2="66.5" stroke="#1a1a1a" stroke-width="0.8"/>
<circle cx="568.4" cy="36.2" r="2.4" fill="none" stroke="#1a1a1a" stroke-width="0.9"/>
<circle cx="568.4" cy="54.9" r="2.4" fill="none" stroke="#1a1a1a" stroke-width="0.9"/>
<circle cx="568.4" cy="75.3" r="2.4" fill="none" stroke="#1a1a1a" stroke-width="0.9"/>
<line x1="592.2" y1="87.2" x2="592.2" y2="63.3" stroke="#1a1a1a" stroke-width="0.8"/>
<line x1="589.6" y1="63.3" x2="594.8" y2="63.3" stroke="#1a1a1a" stroke-width="0.8"/>
<line x1="589.6" y1="87.2" x2="594.8" y2="87.2" stroke="#1a1a1a" stroke-width="0.8"/>
<circle cx="592.3" cy="54.4" r="2.4" fill="none" stroke="#1a1a1a" stroke-width="0.9"/>
<circle cx="592.3" cy="76.4" r="2.4" fill="none" stroke="#1a1a1a" stroke-width="0.9"/>
<circle cx="592.3" cy="96.1" r="2.4" fill="none" stroke="#1a1a1a" stroke-width="0.9"/>
<line x1="606.6" y1="88.5" x2="606.6" y2="44.9" stroke="#1a1a1a" stroke-width="0.8"/>
<line x1="604" y1="44.9" x2="609.2" y2="44.9" stroke="#1a1a1a" stroke-width="0.8"/>
<line x1="604" y1="88.5" x2="609.2" y2="88.5" stroke="#1a1a1a" stroke-width="0.8"/>
<circle cx="606.5" cy="23.9" r="2.4" fill="none" stroke="#1a1a1a" stroke-width="0.9"/>
<circle cx="606.5" cy="79.6" r="2.4" fill="none" stroke="#1a1a1a" stroke-width="0.9"/>
<circle cx="606.5" cy="96.6" r="2.4" fill="none" stroke="#1a1a1a" stroke-width="0.9"/>
<line x1="620.9" y1="84" x2="620.9" y2="71.1" stroke="#1a1a1a" stroke-width="0.8"/>
<line x1="618.3" y1="71.1" x2="623.5" y2="71.1" stroke="#1a1a1a" stroke-width="0.8"/>
<line x1="618.3" y1="84" x2="623.5" y2="84" stroke="#1a1a1a" stroke-width="0.8"/>
<circle cx="621" cy="66.2" r="2.4" fill="none" stroke="#1a1a1a" stroke-width="0.9"/>
<circle cx="621" cy="77.2" r="2.4" fill="none" stroke="#1a1a1a" stroke-width="0.9"/>
<circle cx="621" cy="88.9" r="2.4" fill="none" stroke="#1a1a1a" stroke-width="0.9"/>
<line x1="644.9" y1="97.7" x2="644.9" y2="86.4" stroke="#1a1a1a" stroke-width="0.8"/>
<line x1="642.3" y1="86.4" x2="647.5" y2="86.4" stroke="#1a1a1a" stroke-width="0.8"/>
<line x1="642.3" y1="97.7" x2="647.5" y2="97.7" stroke="#1a1a1a" stroke-width="0.8"/>
<circle cx="644.5" cy="81.6" r="2.4" fill="none" stroke="#1a1a1a" stroke-width="0.9"/>
<circle cx="644.5" cy="92.4" r="2.4" fill="none" stroke="#1a1a1a" stroke-width="0.9"/>
<circle cx="644.5" cy="101.5" r="2.4" fill="none" stroke="#1a1a1a" stroke-width="0.9"/>
<line x1="659" y1="96.9" x2="659" y2="76.3" stroke="#1a1a1a" stroke-width="0.8"/>
<line x1="656.4" y1="76.3" x2="661.6" y2="76.3" stroke="#1a1a1a" stroke-width="0.8"/>
<line x1="656.4" y1="96.9" x2="661.6" y2="96.9" stroke="#1a1a1a" stroke-width="0.8"/>
<circle cx="658.7" cy="69.1" r="2.4" fill="none" stroke="#1a1a1a" stroke-width="0.9"/>
<circle cx="658.7" cy="88" r="2.4" fill="none" stroke="#1a1a1a" stroke-width="0.9"/>
<circle cx="658.7" cy="100.2" r="2.4" fill="none" stroke="#1a1a1a" stroke-width="0.9"/>
<line x1="673.3" y1="91.03" x2="673.3" y2="80.3" stroke="#1a1a1a" stroke-width="0.8"/>
<line x1="670.7" y1="80.3" x2="675.9" y2="80.3" stroke="#1a1a1a" stroke-width="0.8"/>
<circle cx="673.2" cy="71.1" r="2.4" fill="none" stroke="#1a1a1a" stroke-width="0.9"/>
<circle cx="671.1" cy="101" r="2.4" fill="none" stroke="#1a1a1a" stroke-width="0.9"/>
<circle cx="675.2" cy="98.5" r="2.4" fill="none" stroke="#1a1a1a" stroke-width="0.9"/>
<polygon points="539.7,41 540.34,42.22 541.7,42.45 540.74,43.44 540.93,44.8 539.7,44.19 538.47,44.8 538.66,43.44 537.7,42.45 539.06,42.22" fill="#1a1a1a"/>
<polygon points="554.1,49.5 554.74,50.72 556.1,50.95 555.14,51.94 555.33,53.3 554.1,52.69 552.87,53.3 553.06,51.94 552.1,50.95 553.46,50.72" fill="#1a1a1a"/>
<polygon points="568.4,25.6 569.04,26.82 570.4,27.05 569.44,28.04 569.63,29.4 568.4,28.79 567.17,29.4 567.36,28.04 566.4,27.05 567.76,26.82" fill="#1a1a1a"/>
<rect x="515" y="115.2" width="2" height="91.9" fill="#9c9c9c"/>
<line x1="511" y1="206.6" x2="516" y2="206.6" stroke="#2b2b2b" stroke-width="1"/>
<text font-size="9" text-anchor="end" fill="#1a1a1a" transform="translate(509.2 209.84) scale(0.930 1.000)">0</text>
<line x1="511" y1="191.45" x2="516" y2="191.45" stroke="#2b2b2b" stroke-width="1"/>
<text font-size="9" text-anchor="end" fill="#1a1a1a" transform="translate(509.2 194.69) scale(0.930 1.000)">20</text>
<line x1="511" y1="176.3" x2="516" y2="176.3" stroke="#2b2b2b" stroke-width="1"/>
<text font-size="9" text-anchor="end" fill="#1a1a1a" transform="translate(509.2 179.54) scale(0.930 1.000)">40</text>
<line x1="511" y1="161.15" x2="516" y2="161.15" stroke="#2b2b2b" stroke-width="1"/>
<text font-size="9" text-anchor="end" fill="#1a1a1a" transform="translate(509.2 164.39) scale(0.930 1.000)">60</text>
<line x1="511" y1="146" x2="516" y2="146" stroke="#2b2b2b" stroke-width="1"/>
<text font-size="9" text-anchor="end" fill="#1a1a1a" transform="translate(509.2 149.24) scale(0.930 1.000)">80</text>
<line x1="511" y1="130.85" x2="516" y2="130.85" stroke="#2b2b2b" stroke-width="1"/>
<text font-size="9" text-anchor="end" fill="#1a1a1a" transform="translate(509.2 134.09) scale(0.930 1.000)">100</text>
<line x1="511" y1="115.7" x2="516" y2="115.7" stroke="#2b2b2b" stroke-width="1"/>
<text font-size="9" text-anchor="end" fill="#1a1a1a" transform="translate(509.2 118.94) scale(0.930 1.000)">120</text>
<rect x="520.6" y="130.85" width="9.6" height="75.75" fill="#ffffff" stroke="#a0a0a0" stroke-width="1.2"/>
<rect x="535.1" y="191.6" width="9.6" height="15" fill="#9cc5f8" stroke="#222" stroke-width="0.8"/>
<rect x="549.2" y="193.72" width="9.6" height="12.88" fill="#5a9ef7" stroke="#222" stroke-width="0.8"/>
<rect x="563.5" y="192.21" width="9.6" height="14.39" fill="#0a7b91" stroke="#222" stroke-width="0.8"/>
<rect x="587.4" y="196" width="9.6" height="10.6" fill="#9cc5f8" stroke="#222" stroke-width="0.8"/>
<rect x="601.8" y="199.48" width="9.6" height="7.12" fill="#5a9ef7" stroke="#222" stroke-width="0.8"/>
<rect x="616.1" y="194.48" width="9.6" height="12.12" fill="#0a7b91" stroke="#222" stroke-width="0.8"/>
<rect x="640.1" y="197.21" width="9.6" height="9.39" fill="#9cc5f8" stroke="#222" stroke-width="0.8"/>
<rect x="654.2" y="200.31" width="9.6" height="6.29" fill="#5a9ef7" stroke="#222" stroke-width="0.8"/>
<rect x="668.5" y="197.21" width="9.6" height="9.39" fill="#0a7b91" stroke="#222" stroke-width="0.8"/>
<line x1="516" y1="206.6" x2="685" y2="206.6" stroke="#2b2b2b" stroke-width="1"/>
<line x1="525.4" y1="206.6" x2="525.4" y2="211.1" stroke="#2b2b2b" stroke-width="1"/>
<line x1="539.9" y1="206.6" x2="539.9" y2="211.1" stroke="#2b2b2b" stroke-width="1"/>
<line x1="554" y1="206.6" x2="554" y2="211.1" stroke="#2b2b2b" stroke-width="1"/>
<line x1="568.3" y1="206.6" x2="568.3" y2="211.1" stroke="#2b2b2b" stroke-width="1"/>
<line x1="592.2" y1="206.6" x2="592.2" y2="211.1" stroke="#2b2b2b" stroke-width="1"/>
<line x1="606.6" y1="206.6" x2="606.6" y2="211.1" stroke="#2b2b2b" stroke-width="1"/>
<line x1="620.9" y1="206.6" x2="620.9" y2="211.1" stroke="#2b2b2b" stroke-width="1"/>
<line x1="644.9" y1="206.6" x2="644.9" y2="211.1" stroke="#2b2b2b" stroke-width="1"/>
<line x1="659" y1="206.6" x2="659" y2="211.1" stroke="#2b2b2b" stroke-width="1"/>
<line x1="673.3" y1="206.6" x2="673.3" y2="211.1" stroke="#2b2b2b" stroke-width="1"/>
<text font-size="9.7" text-anchor="middle" fill="#1a1a1a" transform="translate(487.2 163.4) rotate(-90)">IκBα expression (%)</text>
<circle cx="522.3" cy="130.7" r="2.4" fill="none" stroke="#1a1a1a" stroke-width="0.9"/>
<circle cx="525.4" cy="130.7" r="2.4" fill="none" stroke="#1a1a1a" stroke-width="0.9"/>
<circle cx="528.5" cy="130.7" r="2.4" fill="none" stroke="#1a1a1a" stroke-width="0.9"/>
<circle cx="537.5" cy="187.5" r="2.4" fill="none" stroke="#1a1a1a" stroke-width="0.9"/>
<circle cx="541.5" cy="189.5" r="2.4" fill="none" stroke="#1a1a1a" stroke-width="0.9"/>
<circle cx="539.5" cy="196.5" r="2.4" fill="none" stroke="#1a1a1a" stroke-width="0.9"/>
<circle cx="554.1" cy="190" r="2.4" fill="none" stroke="#1a1a1a" stroke-width="0.9"/>
<circle cx="552" cy="196" r="2.4" fill="none" stroke="#1a1a1a" stroke-width="0.9"/>
<circle cx="556.5" cy="196" r="2.4" fill="none" stroke="#1a1a1a" stroke-width="0.9"/>
<circle cx="568.4" cy="190.5" r="2.4" fill="none" stroke="#1a1a1a" stroke-width="0.9"/>
<circle cx="566.5" cy="194" r="2.4" fill="none" stroke="#1a1a1a" stroke-width="0.9"/>
<circle cx="570.5" cy="192.5" r="2.4" fill="none" stroke="#1a1a1a" stroke-width="0.9"/>
<circle cx="589.5" cy="192.5" r="2.4" fill="none" stroke="#1a1a1a" stroke-width="0.9"/>
<circle cx="593.5" cy="193.5" r="2.4" fill="none" stroke="#1a1a1a" stroke-width="0.9"/>
<circle cx="592.3" cy="199.5" r="2.4" fill="none" stroke="#1a1a1a" stroke-width="0.9"/>
<circle cx="605.2" cy="196.5" r="2.4" fill="none" stroke="#1a1a1a" stroke-width="0.9"/>
<circle cx="608" cy="197.5" r="2.4" fill="none" stroke="#1a1a1a" stroke-width="0.9"/>
<circle cx="606.6" cy="200.5" r="2.4" fill="none" stroke="#1a1a1a" stroke-width="0.9"/>
<circle cx="620.9" cy="190.2" r="2.4" fill="none" stroke="#1a1a1a" stroke-width="0.9"/>
<circle cx="619" cy="196" r="2.4" fill="none" stroke="#1a1a1a" stroke-width="0.9"/>
<circle cx="622.8" cy="196.5" r="2.4" fill="none" stroke="#1a1a1a" stroke-width="0.9"/>
<circle cx="642.8" cy="196.2" r="2.4" fill="none" stroke="#1a1a1a" stroke-width="0.9"/>
<circle cx="645.5" cy="195.5" r="2.4" fill="none" stroke="#1a1a1a" stroke-width="0.9"/>
<circle cx="646.8" cy="197" r="2.4" fill="none" stroke="#1a1a1a" stroke-width="0.9"/>
<circle cx="657" cy="197.8" r="2.4" fill="none" stroke="#1a1a1a" stroke-width="0.9"/>
<circle cx="660.8" cy="197.8" r="2.4" fill="none" stroke="#1a1a1a" stroke-width="0.9"/>
<circle cx="659" cy="198.5" r="2.4" fill="none" stroke="#1a1a1a" stroke-width="0.9"/>
<circle cx="673.3" cy="193.8" r="2.4" fill="none" stroke="#1a1a1a" stroke-width="0.9"/>
<circle cx="671.3" cy="198.5" r="2.4" fill="none" stroke="#1a1a1a" stroke-width="0.9"/>
<circle cx="675.3" cy="198.5" r="2.4" fill="none" stroke="#1a1a1a" stroke-width="0.9"/>
<polygon points="539.3,178.8 539.91,179.96 541.2,180.18 540.29,181.12 540.48,182.42 539.3,181.84 538.12,182.42 538.31,181.12 537.4,180.18 538.69,179.96" fill="#1a1a1a"/>
<polygon points="539.3,175.1 539.91,176.26 541.2,176.48 540.29,177.42 540.48,178.72 539.3,178.14 538.12,178.72 538.31,177.42 537.4,176.48 538.69,176.26" fill="#1a1a1a"/>
<polygon points="539.3,171.4 539.91,172.56 541.2,172.78 540.29,173.72 540.48,175.02 539.3,174.44 538.12,175.02 538.31,173.72 537.4,172.78 538.69,172.56" fill="#1a1a1a"/>
<polygon points="539.3,167.7 539.91,168.86 541.2,169.08 540.29,170.02 540.48,171.32 539.3,170.74 538.12,171.32 538.31,170.02 537.4,169.08 538.69,168.86" fill="#1a1a1a"/>
<polygon points="553.4,178.8 554.01,179.96 555.3,180.18 554.39,181.12 554.58,182.42 553.4,181.84 552.22,182.42 552.41,181.12 551.5,180.18 552.79,179.96" fill="#1a1a1a"/>
<polygon points="553.4,175.1 554.01,176.26 555.3,176.48 554.39,177.42 554.58,178.72 553.4,178.14 552.22,178.72 552.41,177.42 551.5,176.48 552.79,176.26" fill="#1a1a1a"/>
<polygon points="553.4,171.4 554.01,172.56 555.3,172.78 554.39,173.72 554.58,175.02 553.4,174.44 552.22,175.02 552.41,173.72 551.5,172.78 552.79,172.56" fill="#1a1a1a"/>
<polygon points="553.4,167.7 554.01,168.86 555.3,169.08 554.39,170.02 554.58,171.32 553.4,170.74 552.22,171.32 552.41,170.02 551.5,169.08 552.79,168.86" fill="#1a1a1a"/>
<polygon points="567.7,178.8 568.31,179.96 569.6,180.18 568.69,181.12 568.88,182.42 567.7,181.84 566.52,182.42 566.71,181.12 565.8,180.18 567.09,179.96" fill="#1a1a1a"/>
<polygon points="567.7,175.1 568.31,176.26 569.6,176.48 568.69,177.42 568.88,178.72 567.7,178.14 566.52,178.72 566.71,177.42 565.8,176.48 567.09,176.26" fill="#1a1a1a"/>
<polygon points="567.7,171.4 568.31,172.56 569.6,172.78 568.69,173.72 568.88,175.02 567.7,174.44 566.52,175.02 566.71,173.72 565.8,172.78 567.09,172.56" fill="#1a1a1a"/>
<polygon points="567.7,167.7 568.31,168.86 569.6,169.08 568.69,170.02 568.88,171.32 567.7,170.74 566.52,171.32 566.71,170.02 565.8,169.08 567.09,168.86" fill="#1a1a1a"/>
<polygon points="591.6,178.8 592.21,179.96 593.5,180.18 592.59,181.12 592.78,182.42 591.6,181.84 590.42,182.42 590.61,181.12 589.7,180.18 590.99,179.96" fill="#1a1a1a"/>
<polygon points="591.6,175.1 592.21,176.26 593.5,176.48 592.59,177.42 592.78,178.72 591.6,178.14 590.42,178.72 590.61,177.42 589.7,176.48 590.99,176.26" fill="#1a1a1a"/>
<polygon points="591.6,171.4 592.21,172.56 593.5,172.78 592.59,173.72 592.78,175.02 591.6,174.44 590.42,175.02 590.61,173.72 589.7,172.78 590.99,172.56" fill="#1a1a1a"/>
<polygon points="591.6,167.7 592.21,168.86 593.5,169.08 592.59,170.02 592.78,171.32 591.6,170.74 590.42,171.32 590.61,170.02 589.7,169.08 590.99,168.86" fill="#1a1a1a"/>
<polygon points="606,178.8 606.61,179.96 607.9,180.18 606.99,181.12 607.18,182.42 606,181.84 604.82,182.42 605.01,181.12 604.1,180.18 605.39,179.96" fill="#1a1a1a"/>
<polygon points="606,175.1 606.61,176.26 607.9,176.48 606.99,177.42 607.18,178.72 606,178.14 604.82,178.72 605.01,177.42 604.1,176.48 605.39,176.26" fill="#1a1a1a"/>
<polygon points="606,171.4 606.61,172.56 607.9,172.78 606.99,173.72 607.18,175.02 606,174.44 604.82,175.02 605.01,173.72 604.1,172.78 605.39,172.56" fill="#1a1a1a"/>
<polygon points="606,167.7 606.61,168.86 607.9,169.08 606.99,170.02 607.18,171.32 606,170.74 604.82,171.32 605.01,170.02 604.1,169.08 605.39,168.86" fill="#1a1a1a"/>
<polygon points="620.3,178.8 620.91,179.96 622.2,180.18 621.29,181.12 621.48,182.42 620.3,181.84 619.12,182.42 619.31,181.12 618.4,180.18 619.69,179.96" fill="#1a1a1a"/>
<polygon points="620.3,175.1 620.91,176.26 622.2,176.48 621.29,177.42 621.48,178.72 620.3,178.14 619.12,178.72 619.31,177.42 618.4,176.48 619.69,176.26" fill="#1a1a1a"/>
<polygon points="620.3,171.4 620.91,172.56 622.2,172.78 621.29,173.72 621.48,175.02 620.3,174.44 619.12,175.02 619.31,173.72 618.4,172.78 619.69,172.56" fill="#1a1a1a"/>
<polygon points="620.3,167.7 620.91,168.86 622.2,169.08 621.29,170.02 621.48,171.32 620.3,170.74 619.12,171.32 619.31,170.02 618.4,169.08 619.69,168.86" fill="#1a1a1a"/>
<polygon points="644.3,178.8 644.91,179.96 646.2,180.18 645.29,181.12 645.48,182.42 644.3,181.84 643.12,182.42 643.31,181.12 642.4,180.18 643.69,179.96" fill="#1a1a1a"/>
<polygon points="644.3,175.1 644.91,176.26 646.2,176.48 645.29,177.42 645.48,178.72 644.3,178.14 643.12,178.72 643.31,177.42 642.4,176.48 643.69,176.26" fill="#1a1a1a"/>
<polygon points="644.3,171.4 644.91,172.56 646.2,172.78 645.29,173.72 645.48,175.02 644.3,174.44 643.12,175.02 643.31,173.72 642.4,172.78 643.69,172.56" fill="#1a1a1a"/>
<polygon points="644.3,167.7 644.91,168.86 646.2,169.08 645.29,170.02 645.48,171.32 644.3,170.74 643.12,171.32 643.31,170.02 642.4,169.08 643.69,168.86" fill="#1a1a1a"/>
<polygon points="658.4,178.8 659.01,179.96 660.3,180.18 659.39,181.12 659.58,182.42 658.4,181.84 657.22,182.42 657.41,181.12 656.5,180.18 657.79,179.96" fill="#1a1a1a"/>
<polygon points="658.4,175.1 659.01,176.26 660.3,176.48 659.39,177.42 659.58,178.72 658.4,178.14 657.22,178.72 657.41,177.42 656.5,176.48 657.79,176.26" fill="#1a1a1a"/>
<polygon points="658.4,171.4 659.01,172.56 660.3,172.78 659.39,173.72 659.58,175.02 658.4,174.44 657.22,175.02 657.41,173.72 656.5,172.78 657.79,172.56" fill="#1a1a1a"/>
<polygon points="658.4,167.7 659.01,168.86 660.3,169.08 659.39,170.02 659.58,171.32 658.4,170.74 657.22,171.32 657.41,170.02 656.5,169.08 657.79,168.86" fill="#1a1a1a"/>
<polygon points="672.7,178.8 673.31,179.96 674.6,180.18 673.69,181.12 673.88,182.42 672.7,181.84 671.52,182.42 671.71,181.12 670.8,180.18 672.09,179.96" fill="#1a1a1a"/>
<polygon points="672.7,175.1 673.31,176.26 674.6,176.48 673.69,177.42 673.88,178.72 672.7,178.14 671.52,178.72 671.71,177.42 670.8,176.48 672.09,176.26" fill="#1a1a1a"/>
<polygon points="672.7,171.4 673.31,172.56 674.6,172.78 673.69,173.72 673.88,175.02 672.7,174.44 671.52,175.02 671.71,173.72 670.8,172.78 672.09,172.56" fill="#1a1a1a"/>
<polygon points="672.7,167.7 673.31,168.86 674.6,169.08 673.69,170.02 673.88,171.32 672.7,170.74 671.52,171.32 671.71,170.02 670.8,169.08 672.09,168.86" fill="#1a1a1a"/>
<text font-size="8.7" text-anchor="end" fill="#1a1a1a" transform="translate(525 217.5) rotate(-54)">NT</text>
<text font-size="8.7" text-anchor="end" fill="#1a1a1a" transform="translate(539.5 217.5) rotate(-54)">IL1B 10 ng/ml</text>
<text font-size="8.7" text-anchor="end" fill="#1a1a1a" transform="translate(553.6 217.5) rotate(-54)">IL1B 50 ng/ml</text>
<text font-size="8.7" text-anchor="end" fill="#1a1a1a" transform="translate(567.9 217.5) rotate(-54)">TNFα</text>
<text font-size="8.7" text-anchor="end" fill="#1a1a1a" transform="translate(591.8 217.5) rotate(-54)">IL1B 10 ng/ml</text>
<text font-size="8.7" text-anchor="end" fill="#1a1a1a" transform="translate(606.2 217.5) rotate(-54)">IL1B 50 ng/ml</text>
<text font-size="8.7" text-anchor="end" fill="#1a1a1a" transform="translate(620.5 217.5) rotate(-54)">TNFα</text>
<text font-size="8.7" text-anchor="end" fill="#1a1a1a" transform="translate(644.5 217.5) rotate(-54)">IL1B 10 ng/ml</text>
<text font-size="8.7" text-anchor="end" fill="#1a1a1a" transform="translate(658.6 217.5) rotate(-54)">IL1B 50 ng/ml</text>
<text font-size="8.7" text-anchor="end" fill="#1a1a1a" transform="translate(672.9 217.5) rotate(-54)">TNFα</text>
<rect x="59" y="285.8" width="2" height="156.2" fill="#ababab"/>
<line x1="53.2" y1="441.5" x2="59.7" y2="441.5" stroke="#2b2b2b" stroke-width="1"/>
<text x="51.7" y="444.74" font-size="9" text-anchor="end" fill="#1a1a1a">0</text>
<line x1="53.2" y1="402.7" x2="59.7" y2="402.7" stroke="#2b2b2b" stroke-width="1"/>
<text x="51.7" y="405.94" font-size="9" text-anchor="end" fill="#1a1a1a">50</text>
<line x1="53.2" y1="363.9" x2="59.7" y2="363.9" stroke="#2b2b2b" stroke-width="1"/>
<text x="51.7" y="367.14" font-size="9" text-anchor="end" fill="#1a1a1a">100</text>
<line x1="53.2" y1="325.1" x2="59.7" y2="325.1" stroke="#2b2b2b" stroke-width="1"/>
<text x="51.7" y="328.34" font-size="9" text-anchor="end" fill="#1a1a1a">150</text>
<line x1="53.2" y1="286.3" x2="59.7" y2="286.3" stroke="#2b2b2b" stroke-width="1"/>
<text x="51.7" y="289.54" font-size="9" text-anchor="end" fill="#1a1a1a">200</text>
<rect x="67.95" y="373.99" width="15.6" height="60.22" fill="#ffbf80" stroke="#3a3a3a" stroke-width="0.8"/>
<rect x="67.95" y="434.21" width="15.6" height="7.29" fill="#97c2f5" stroke="#3a3a3a" stroke-width="0.8"/>
<rect x="91.85" y="342.72" width="15.6" height="88.77" fill="#ffbf80" stroke="#3a3a3a" stroke-width="0.8"/>
<rect x="91.85" y="431.49" width="15.6" height="10.01" fill="#97c2f5" stroke="#3a3a3a" stroke-width="0.8"/>
<rect x="115.6" y="364.13" width="15.6" height="68.68" fill="#ffbf80" stroke="#3a3a3a" stroke-width="0.8"/>
<rect x="115.6" y="432.81" width="15.6" height="8.69" fill="#97c2f5" stroke="#3a3a3a" stroke-width="0.8"/>
<rect x="139.65" y="369.02" width="15.6" height="63.79" fill="#ffbf80" stroke="#3a3a3a" stroke-width="0.8"/>
<rect x="139.65" y="432.81" width="15.6" height="8.69" fill="#97c2f5" stroke="#3a3a3a" stroke-width="0.8"/>
<line x1="59.7" y1="441.5" x2="164.2" y2="441.5" stroke="#444" stroke-width="1"/>
<line x1="75.75" y1="441.5" x2="75.75" y2="447.7" stroke="#444" stroke-width="1"/>
<line x1="99.65" y1="441.5" x2="99.65" y2="447.7" stroke="#444" stroke-width="1"/>
<line x1="123.4" y1="441.5" x2="123.4" y2="447.7" stroke="#444" stroke-width="1"/>
<line x1="147.45" y1="441.5" x2="147.45" y2="447.7" stroke="#444" stroke-width="1"/>
<text x="75.75" y="457.3" font-size="9.6" text-anchor="middle" fill="#1a1a1a">NT</text>
<text x="99.65" y="457.3" font-size="9.6" text-anchor="middle" fill="#1a1a1a">2d-</text>
<text x="123.4" y="457.3" font-size="9.6" text-anchor="middle" fill="#1a1a1a">0d</text>
<text x="147.45" y="457.3" font-size="9.6" text-anchor="middle" fill="#1a1a1a">2d+</text>
<text font-size="9.6" text-anchor="middle" fill="#1a1a1a" transform="translate(111.3 265.6) scale(0.990 1.000)">X4-NL4-3 Env</text>
<rect x="178" y="285.8" width="2" height="156.2" fill="#ababab"/>
<line x1="172.5" y1="441.5" x2="179" y2="441.5" stroke="#2b2b2b" stroke-width="1"/>
<line x1="172.5" y1="402.7" x2="179" y2="402.7" stroke="#2b2b2b" stroke-width="1"/>
<line x1="172.5" y1="363.9" x2="179" y2="363.9" stroke="#2b2b2b" stroke-width="1"/>
<line x1="172.5" y1="325.1" x2="179" y2="325.1" stroke="#2b2b2b" stroke-width="1"/>
<line x1="172.5" y1="286.3" x2="179" y2="286.3" stroke="#2b2b2b" stroke-width="1"/>
<rect x="187.1" y="384.46" width="15.6" height="41.05" fill="#ffbf80" stroke="#3a3a3a" stroke-width="0.8"/>
<rect x="187.1" y="425.51" width="15.6" height="15.99" fill="#97c2f5" stroke="#3a3a3a" stroke-width="0.8"/>
<rect x="211.1" y="352.1" width="15.6" height="54.86" fill="#ffbf80" stroke="#3a3a3a" stroke-width="0.8"/>
<rect x="211.1" y="406.97" width="15.6" height="34.53" fill="#97c2f5" stroke="#3a3a3a" stroke-width="0.8"/>
<rect x="235" y="370.03" width="15.6" height="45.24" fill="#ffbf80" stroke="#3a3a3a" stroke-width="0.8"/>
<rect x="235" y="415.27" width="15.6" height="26.23" fill="#97c2f5" stroke="#3a3a3a" stroke-width="0.8"/>
<rect x="258.5" y="381.98" width="15.6" height="30.19" fill="#ffbf80" stroke="#3a3a3a" stroke-width="0.8"/>
<rect x="258.5" y="412.17" width="15.6" height="29.33" fill="#97c2f5" stroke="#3a3a3a" stroke-width="0.8"/>
<line x1="179" y1="441.5" x2="282" y2="441.5" stroke="#444" stroke-width="1"/>
<line x1="194.9" y1="441.5" x2="194.9" y2="447.7" stroke="#444" stroke-width="1"/>
<line x1="218.9" y1="441.5" x2="218.9" y2="447.7" stroke="#444" stroke-width="1"/>
<line x1="242.8" y1="441.5" x2="242.8" y2="447.7" stroke="#444" stroke-width="1"/>
<line x1="266.3" y1="441.5" x2="266.3" y2="447.7" stroke="#444" stroke-width="1"/>
<text x="194.9" y="457.3" font-size="9.6" text-anchor="middle" fill="#1a1a1a">NT</text>
<text x="218.9" y="457.3" font-size="9.6" text-anchor="middle" fill="#1a1a1a">2d-</text>
<text x="242.8" y="457.3" font-size="9.6" text-anchor="middle" fill="#1a1a1a">0d</text>
<text x="266.3" y="457.3" font-size="9.6" text-anchor="middle" fill="#1a1a1a">2d+</text>
<text font-size="9.6" text-anchor="middle" fill="#1a1a1a" transform="translate(231.7 265.6) scale(0.990 1.000)">R5-NL4-3 Env</text>
<rect x="297" y="285.8" width="2" height="156.2" fill="#ababab"/>
<line x1="292" y1="441.5" x2="298.5" y2="441.5" stroke="#2b2b2b" stroke-width="1"/>
<line x1="292" y1="402.7" x2="298.5" y2="402.7" stroke="#2b2b2b" stroke-width="1"/>
<line x1="292" y1="363.9" x2="298.5" y2="363.9" stroke="#2b2b2b" stroke-width="1"/>
<line x1="292" y1="325.1" x2="298.5" y2="325.1" stroke="#2b2b2b" stroke-width="1"/>
<line x1="292" y1="286.3" x2="298.5" y2="286.3" stroke="#2b2b2b" stroke-width="1"/>
<rect x="306.2" y="383.92" width="15.6" height="40.58" fill="#ffbf80" stroke="#3a3a3a" stroke-width="0.8"/>
<rect x="306.2" y="424.51" width="15.6" height="16.99" fill="#97c2f5" stroke="#3a3a3a" stroke-width="0.8"/>
<rect x="330.1" y="352.42" width="15.6" height="68.37" fill="#ffbf80" stroke="#3a3a3a" stroke-width="0.8"/>
<rect x="330.1" y="420.78" width="15.6" height="20.72" fill="#97c2f5" stroke="#3a3a3a" stroke-width="0.8"/>
<rect x="354" y="366.62" width="15.6" height="55.41" fill="#ffbf80" stroke="#3a3a3a" stroke-width="0.8"/>
<rect x="354" y="422.02" width="15.6" height="19.48" fill="#97c2f5" stroke="#3a3a3a" stroke-width="0.8"/>
<rect x="377.7" y="362.35" width="15.6" height="56.03" fill="#ffbf80" stroke="#3a3a3a" stroke-width="0.8"/>
<rect x="377.7" y="418.38" width="15.6" height="23.12" fill="#97c2f5" stroke="#3a3a3a" stroke-width="0.8"/>
<line x1="298.5" y1="441.5" x2="401.8" y2="441.5" stroke="#444" stroke-width="1"/>
<line x1="314" y1="441.5" x2="314" y2="447.7" stroke="#444" stroke-width="1"/>
<line x1="337.9" y1="441.5" x2="337.9" y2="447.7" stroke="#444" stroke-width="1"/>
<line x1="361.8" y1="441.5" x2="361.8" y2="447.7" stroke="#444" stroke-width="1"/>
<line x1="385.5" y1="441.5" x2="385.5" y2="447.7" stroke="#444" stroke-width="1"/>
<text x="314" y="457.3" font-size="9.6" text-anchor="middle" fill="#1a1a1a">NT</text>
<text x="337.9" y="457.3" font-size="9.6" text-anchor="middle" fill="#1a1a1a">2d-</text>
<text x="361.8" y="457.3" font-size="9.6" text-anchor="middle" fill="#1a1a1a">0d</text>
<text x="385.5" y="457.3" font-size="9.6" text-anchor="middle" fill="#1a1a1a">2d+</text>
<text font-size="9.6" text-anchor="middle" fill="#1a1a1a" transform="translate(350.5 265.6) scale(0.990 1.000)">R5X4-CH077 Env</text>
<text font-size="10" text-anchor="middle" fill="#1a1a1a" transform="translate(23.3 363.8) rotate(-90)">Infection (%)</text>
<rect x="307.1" y="281.2" width="16" height="8.2" fill="#ffbf80" stroke="#3a3a3a" stroke-width="0.8"/>
<rect x="307.1" y="292.6" width="16" height="8" fill="#97c2f5" stroke="#3a3a3a" stroke-width="0.8"/>
<text font-size="9.2" text-anchor="start" fill="#1a1a1a" transform="translate(327.9 288.8) scale(0.960 1.000)">Productive</text>
<text font-size="9.2" text-anchor="start" fill="#1a1a1a" transform="translate(327.9 300.2) scale(0.960 1.000)">Latent</text>
<line x1="99.65" y1="355.2" x2="99.65" y2="329.3" stroke="#1a1a1a" stroke-width="0.8"/>
<line x1="95.85" y1="329.3" x2="103.45" y2="329.3" stroke="#1a1a1a" stroke-width="0.8"/>
<line x1="95.85" y1="355.2" x2="103.45" y2="355.2" stroke="#1a1a1a" stroke-width="0.8"/>
<line x1="123.4" y1="368" x2="123.4" y2="359.8" stroke="#1a1a1a" stroke-width="0.8"/>
<line x1="119.6" y1="359.8" x2="127.2" y2="359.8" stroke="#1a1a1a" stroke-width="0.8"/>
<line x1="119.6" y1="368" x2="127.2" y2="368" stroke="#1a1a1a" stroke-width="0.8"/>
<line x1="147.45" y1="376" x2="147.45" y2="362.1" stroke="#1a1a1a" stroke-width="0.8"/>
<line x1="143.65" y1="362.1" x2="151.25" y2="362.1" stroke="#1a1a1a" stroke-width="0.8"/>
<line x1="143.65" y1="376" x2="151.25" y2="376" stroke="#1a1a1a" stroke-width="0.8"/>
<line x1="218.9" y1="362.2" x2="218.9" y2="341.7" stroke="#1a1a1a" stroke-width="0.8"/>
<line x1="215.1" y1="341.7" x2="222.7" y2="341.7" stroke="#1a1a1a" stroke-width="0.8"/>
<line x1="215.1" y1="362.2" x2="222.7" y2="362.2" stroke="#1a1a1a" stroke-width="0.8"/>
<line x1="218.9" y1="415.6" x2="218.9" y2="399.7" stroke="#1a1a1a" stroke-width="0.8"/>
<line x1="215.1" y1="399.7" x2="222.7" y2="399.7" stroke="#1a1a1a" stroke-width="0.8"/>
<line x1="215.1" y1="415.6" x2="222.7" y2="415.6" stroke="#1a1a1a" stroke-width="0.8"/>
<line x1="242.8" y1="374.5" x2="242.8" y2="364.6" stroke="#1a1a1a" stroke-width="0.8"/>
<line x1="239" y1="364.6" x2="246.6" y2="364.6" stroke="#1a1a1a" stroke-width="0.8"/>
<line x1="239" y1="374.5" x2="246.6" y2="374.5" stroke="#1a1a1a" stroke-width="0.8"/>
<line x1="242.8" y1="419.1" x2="242.8" y2="412.2" stroke="#1a1a1a" stroke-width="0.8"/>
<line x1="239" y1="412.2" x2="246.6" y2="412.2" stroke="#1a1a1a" stroke-width="0.8"/>
<line x1="239" y1="419.1" x2="246.6" y2="419.1" stroke="#1a1a1a" stroke-width="0.8"/>
<line x1="266.3" y1="385.4" x2="266.3" y2="378.5" stroke="#1a1a1a" stroke-width="0.8"/>
<line x1="262.5" y1="378.5" x2="270.1" y2="378.5" stroke="#1a1a1a" stroke-width="0.8"/>
<line x1="262.5" y1="385.4" x2="270.1" y2="385.4" stroke="#1a1a1a" stroke-width="0.8"/>
<line x1="266.3" y1="419.1" x2="266.3" y2="404.8" stroke="#1a1a1a" stroke-width="0.8"/>
<line x1="262.5" y1="404.8" x2="270.1" y2="404.8" stroke="#1a1a1a" stroke-width="0.8"/>
<line x1="262.5" y1="419.1" x2="270.1" y2="419.1" stroke="#1a1a1a" stroke-width="0.8"/>
<line x1="337.9" y1="359.6" x2="337.9" y2="345.1" stroke="#1a1a1a" stroke-width="0.8"/>
<line x1="334.1" y1="345.1" x2="341.7" y2="345.1" stroke="#1a1a1a" stroke-width="0.8"/>
<line x1="334.1" y1="359.6" x2="341.7" y2="359.6" stroke="#1a1a1a" stroke-width="0.8"/>
<line x1="361.8" y1="369.5" x2="361.8" y2="362.6" stroke="#1a1a1a" stroke-width="0.8"/>
<line x1="358" y1="362.6" x2="365.6" y2="362.6" stroke="#1a1a1a" stroke-width="0.8"/>
<line x1="358" y1="369.5" x2="365.6" y2="369.5" stroke="#1a1a1a" stroke-width="0.8"/>
<line x1="385.5" y1="371.5" x2="385.5" y2="352.3" stroke="#1a1a1a" stroke-width="0.8"/>
<line x1="381.7" y1="352.3" x2="389.3" y2="352.3" stroke="#1a1a1a" stroke-width="0.8"/>
<line x1="381.7" y1="371.5" x2="389.3" y2="371.5" stroke="#1a1a1a" stroke-width="0.8"/>
<line x1="337.9" y1="425" x2="337.9" y2="413" stroke="#1a1a1a" stroke-width="0.8"/>
<line x1="334.1" y1="413" x2="341.7" y2="413" stroke="#1a1a1a" stroke-width="0.8"/>
<line x1="334.1" y1="425" x2="341.7" y2="425" stroke="#1a1a1a" stroke-width="0.8"/>
<line x1="361.8" y1="424" x2="361.8" y2="418" stroke="#1a1a1a" stroke-width="0.8"/>
<line x1="358" y1="418" x2="365.6" y2="418" stroke="#1a1a1a" stroke-width="0.8"/>
<line x1="358" y1="424" x2="365.6" y2="424" stroke="#1a1a1a" stroke-width="0.8"/>
<line x1="99.65" y1="431.5" x2="99.65" y2="425.5" stroke="#1a1a1a" stroke-width="0.8"/>
<line x1="95.85" y1="425.5" x2="103.45" y2="425.5" stroke="#1a1a1a" stroke-width="0.8"/>
<line x1="95.85" y1="431.5" x2="103.45" y2="431.5" stroke="#1a1a1a" stroke-width="0.8"/>
<line x1="123.4" y1="433" x2="123.4" y2="429" stroke="#1a1a1a" stroke-width="0.8"/>
<line x1="119.6" y1="429" x2="127.2" y2="429" stroke="#1a1a1a" stroke-width="0.8"/>
<line x1="119.6" y1="433" x2="127.2" y2="433" stroke="#1a1a1a" stroke-width="0.8"/>
<circle cx="75.4" cy="369.8" r="2.3" fill="none" stroke="#1a1a1a" stroke-width="0.9"/>
<circle cx="70.5" cy="376" r="2.3" fill="none" stroke="#1a1a1a" stroke-width="0.9"/>
<circle cx="73.1" cy="375.2" r="2.3" fill="none" stroke="#1a1a1a" stroke-width="0.9"/>
<circle cx="77" cy="375.5" r="2.3" fill="none" stroke="#1a1a1a" stroke-width="0.9"/>
<circle cx="80" cy="374.4" r="2.3" fill="none" stroke="#1a1a1a" stroke-width="0.9"/>
<circle cx="81.6" cy="373.7" r="2.3" fill="none" stroke="#1a1a1a" stroke-width="0.9"/>
<circle cx="70.7" cy="433.6" r="2.3" fill="none" stroke="#1a1a1a" stroke-width="0.9"/>
<circle cx="73" cy="432.5" r="2.3" fill="none" stroke="#1a1a1a" stroke-width="0.9"/>
<circle cx="76.1" cy="432.8" r="2.3" fill="none" stroke="#1a1a1a" stroke-width="0.9"/>
<circle cx="79.2" cy="432.8" r="2.3" fill="none" stroke="#1a1a1a" stroke-width="0.9"/>
<circle cx="81.5" cy="431" r="2.3" fill="none" stroke="#1a1a1a" stroke-width="0.9"/>
<circle cx="81.5" cy="439" r="2.3" fill="none" stroke="#1a1a1a" stroke-width="0.9"/>
<circle cx="99.3" cy="290.4" r="2.3" fill="none" stroke="#1a1a1a" stroke-width="0.9"/>
<circle cx="99.3" cy="329" r="2.3" fill="none" stroke="#1a1a1a" stroke-width="0.9"/>
<circle cx="97.5" cy="339.8" r="2.3" fill="none" stroke="#1a1a1a" stroke-width="0.9"/>
<circle cx="101.3" cy="346.7" r="2.3" fill="none" stroke="#1a1a1a" stroke-width="0.9"/>
<circle cx="99.3" cy="359.8" r="2.3" fill="none" stroke="#1a1a1a" stroke-width="0.9"/>
<circle cx="99.3" cy="387.2" r="2.3" fill="none" stroke="#1a1a1a" stroke-width="0.9"/>
<circle cx="93.7" cy="428.2" r="2.3" fill="none" stroke="#1a1a1a" stroke-width="0.9"/>
<circle cx="97.6" cy="427.5" r="2.3" fill="none" stroke="#1a1a1a" stroke-width="0.9"/>
<circle cx="101.1" cy="428.2" r="2.3" fill="none" stroke="#1a1a1a" stroke-width="0.9"/>
<circle cx="104.5" cy="431.3" r="2.3" fill="none" stroke="#1a1a1a" stroke-width="0.9"/>
<circle cx="94" cy="437.4" r="2.3" fill="none" stroke="#1a1a1a" stroke-width="0.9"/>
<circle cx="101.1" cy="436.7" r="2.3" fill="none" stroke="#1a1a1a" stroke-width="0.9"/>
<circle cx="124.4" cy="349.5" r="2.3" fill="none" stroke="#1a1a1a" stroke-width="0.9"/>
<circle cx="121.4" cy="354.4" r="2.3" fill="none" stroke="#1a1a1a" stroke-width="0.9"/>
<circle cx="120.9" cy="367.2" r="2.3" fill="none" stroke="#1a1a1a" stroke-width="0.9"/>
<circle cx="125.5" cy="366" r="2.3" fill="none" stroke="#1a1a1a" stroke-width="0.9"/>
<circle cx="123.2" cy="369.8" r="2.3" fill="none" stroke="#1a1a1a" stroke-width="0.9"/>
<circle cx="120.1" cy="376" r="2.3" fill="none" stroke="#1a1a1a" stroke-width="0.9"/>
<circle cx="117.5" cy="429" r="2.3" fill="none" stroke="#1a1a1a" stroke-width="0.9"/>
<circle cx="122.8" cy="429" r="2.3" fill="none" stroke="#1a1a1a" stroke-width="0.9"/>
<circle cx="128.2" cy="431.3" r="2.3" fill="none" stroke="#1a1a1a" stroke-width="0.9"/>
<circle cx="125.9" cy="435.1" r="2.3" fill="none" stroke="#1a1a1a" stroke-width="0.9"/>
<circle cx="120.5" cy="439.3" r="2.3" fill="none" stroke="#1a1a1a" stroke-width="0.9"/>
<circle cx="148.7" cy="348.7" r="2.3" fill="none" stroke="#1a1a1a" stroke-width="0.9"/>
<circle cx="144.8" cy="351.8" r="2.3" fill="none" stroke="#1a1a1a" stroke-width="0.9"/>
<circle cx="147.1" cy="362.1" r="2.3" fill="none" stroke="#1a1a1a" stroke-width="0.9"/>
<circle cx="147.1" cy="374.9" r="2.3" fill="none" stroke="#1a1a1a" stroke-width="0.9"/>
<circle cx="146.6" cy="382.3" r="2.3" fill="none" stroke="#1a1a1a" stroke-width="0.9"/>
<circle cx="146.6" cy="393.8" r="2.3" fill="none" stroke="#1a1a1a" stroke-width="0.9"/>
<circle cx="141.2" cy="430.5" r="2.3" fill="none" stroke="#1a1a1a" stroke-width="0.9"/>
<circle cx="145.1" cy="428.2" r="2.3" fill="none" stroke="#1a1a1a" stroke-width="0.9"/>
<circle cx="148.9" cy="428.2" r="2.3" fill="none" stroke="#1a1a1a" stroke-width="0.9"/>
<circle cx="152.7" cy="432.8" r="2.3" fill="none" stroke="#1a1a1a" stroke-width="0.9"/>
<circle cx="148.1" cy="435.9" r="2.3" fill="none" stroke="#1a1a1a" stroke-width="0.9"/>
<circle cx="141.2" cy="438.7" r="2.3" fill="none" stroke="#1a1a1a" stroke-width="0.9"/>
<circle cx="188.9" cy="385" r="2.3" fill="none" stroke="#1a1a1a" stroke-width="0.9"/>
<circle cx="194.3" cy="387" r="2.3" fill="none" stroke="#1a1a1a" stroke-width="0.9"/>
<circle cx="200.4" cy="382.4" r="2.3" fill="none" stroke="#1a1a1a" stroke-width="0.9"/>
<circle cx="189.3" cy="427.5" r="2.3" fill="none" stroke="#1a1a1a" stroke-width="0.9"/>
<circle cx="194.9" cy="422.7" r="2.3" fill="none" stroke="#1a1a1a" stroke-width="0.9"/>
<circle cx="200.4" cy="424.3" r="2.3" fill="none" stroke="#1a1a1a" stroke-width="0.9"/>
<circle cx="218.7" cy="339.2" r="2.3" fill="none" stroke="#1a1a1a" stroke-width="0.9"/>
<circle cx="218.7" cy="345.3" r="2.3" fill="none" stroke="#1a1a1a" stroke-width="0.9"/>
<circle cx="218.7" cy="372.1" r="2.3" fill="none" stroke="#1a1a1a" stroke-width="0.9"/>
<circle cx="218.7" cy="391.7" r="2.3" fill="none" stroke="#1a1a1a" stroke-width="0.9"/>
<circle cx="218.7" cy="411.2" r="2.3" fill="none" stroke="#1a1a1a" stroke-width="0.9"/>
<circle cx="218.7" cy="419.1" r="2.3" fill="none" stroke="#1a1a1a" stroke-width="0.9"/>
<circle cx="242.5" cy="360" r="2.3" fill="none" stroke="#1a1a1a" stroke-width="0.9"/>
<circle cx="237" cy="373.1" r="2.3" fill="none" stroke="#1a1a1a" stroke-width="0.9"/>
<circle cx="248.1" cy="377.1" r="2.3" fill="none" stroke="#1a1a1a" stroke-width="0.9"/>
<circle cx="237" cy="410.2" r="2.3" fill="none" stroke="#1a1a1a" stroke-width="0.9"/>
<circle cx="248.1" cy="412.6" r="2.3" fill="none" stroke="#1a1a1a" stroke-width="0.9"/>
<circle cx="242.5" cy="423.7" r="2.3" fill="none" stroke="#1a1a1a" stroke-width="0.9"/>
<circle cx="266.3" cy="375.1" r="2.3" fill="none" stroke="#1a1a1a" stroke-width="0.9"/>
<circle cx="266.3" cy="381.8" r="2.3" fill="none" stroke="#1a1a1a" stroke-width="0.9"/>
<circle cx="266.3" cy="388.4" r="2.3" fill="none" stroke="#1a1a1a" stroke-width="0.9"/>
<circle cx="266.3" cy="397.3" r="2.3" fill="none" stroke="#1a1a1a" stroke-width="0.9"/>
<circle cx="266.3" cy="416.2" r="2.3" fill="none" stroke="#1a1a1a" stroke-width="0.9"/>
<circle cx="266.3" cy="421.7" r="2.3" fill="none" stroke="#1a1a1a" stroke-width="0.9"/>
<circle cx="308.3" cy="382.4" r="2.3" fill="none" stroke="#1a1a1a" stroke-width="0.9"/>
<circle cx="313.9" cy="384.8" r="2.3" fill="none" stroke="#1a1a1a" stroke-width="0.9"/>
<circle cx="319.4" cy="384.8" r="2.3" fill="none" stroke="#1a1a1a" stroke-width="0.9"/>
<circle cx="308.3" cy="427.1" r="2.3" fill="none" stroke="#1a1a1a" stroke-width="0.9"/>
<circle cx="313.9" cy="424.5" r="2.3" fill="none" stroke="#1a1a1a" stroke-width="0.9"/>
<circle cx="319.4" cy="424.5" r="2.3" fill="none" stroke="#1a1a1a" stroke-width="0.9"/>
<circle cx="337.7" cy="337.4" r="2.3" fill="none" stroke="#1a1a1a" stroke-width="0.9"/>
<circle cx="332.1" cy="359.6" r="2.3" fill="none" stroke="#1a1a1a" stroke-width="0.9"/>
<circle cx="343.3" cy="360" r="2.3" fill="none" stroke="#1a1a1a" stroke-width="0.9"/>
<circle cx="337.7" cy="413.8" r="2.3" fill="none" stroke="#1a1a1a" stroke-width="0.9"/>
<circle cx="337.7" cy="419.7" r="2.3" fill="none" stroke="#1a1a1a" stroke-width="0.9"/>
<circle cx="337.7" cy="427.1" r="2.3" fill="none" stroke="#1a1a1a" stroke-width="0.9"/>
<circle cx="361.5" cy="359.2" r="2.3" fill="none" stroke="#1a1a1a" stroke-width="0.9"/>
<circle cx="361.5" cy="366.2" r="2.3" fill="none" stroke="#1a1a1a" stroke-width="0.9"/>
<circle cx="361.5" cy="374.1" r="2.3" fill="none" stroke="#1a1a1a" stroke-width="0.9"/>
<circle cx="361.5" cy="416.2" r="2.3" fill="none" stroke="#1a1a1a" stroke-width="0.9"/>
<circle cx="356.2" cy="426.5" r="2.3" fill="none" stroke="#1a1a1a" stroke-width="0.9"/>
<circle cx="367.1" cy="423.7" r="2.3" fill="none" stroke="#1a1a1a" stroke-width="0.9"/>
<circle cx="385.3" cy="345.1" r="2.3" fill="none" stroke="#1a1a1a" stroke-width="0.9"/>
<circle cx="385.3" cy="363.2" r="2.3" fill="none" stroke="#1a1a1a" stroke-width="0.9"/>
<circle cx="385.3" cy="377.9" r="2.3" fill="none" stroke="#1a1a1a" stroke-width="0.9"/>
<circle cx="379.8" cy="419.1" r="2.3" fill="none" stroke="#1a1a1a" stroke-width="0.9"/>
<circle cx="385.3" cy="417.5" r="2.3" fill="none" stroke="#1a1a1a" stroke-width="0.9"/>
<circle cx="390.9" cy="418.1" r="2.3" fill="none" stroke="#1a1a1a" stroke-width="0.9"/>
<polygon points="99.3,278.3 99.94,279.52 101.3,279.75 100.34,280.74 100.53,282.1 99.3,281.49 98.07,282.1 98.26,280.74 97.3,279.75 98.66,279.52" fill="#1a1a1a"/>
<polygon points="123.2,334.6 123.84,335.82 125.2,336.05 124.24,337.04 124.43,338.4 123.2,337.79 121.97,338.4 122.16,337.04 121.2,336.05 122.56,335.82" fill="#1a1a1a"/>
<polygon points="218.7,322.8 219.34,324.02 220.7,324.25 219.74,325.24 219.93,326.6 218.7,325.99 217.47,326.6 217.66,325.24 216.7,324.25 218.06,324.02" fill="#1a1a1a"/>
<polygon points="242.5,345.2 243.14,346.42 244.5,346.65 243.54,347.64 243.73,349 242.5,348.39 241.27,349 241.46,347.64 240.5,346.65 241.86,346.42" fill="#1a1a1a"/>
<polygon points="337.7,322.8 338.34,324.02 339.7,324.25 338.74,325.24 338.93,326.6 337.7,325.99 336.47,326.6 336.66,325.24 335.7,324.25 337.06,324.02" fill="#1a1a1a"/>
<polygon points="361.5,343.6 362.14,344.82 363.5,345.05 362.54,346.04 362.73,347.4 361.5,346.79 360.27,347.4 360.46,346.04 359.5,345.05 360.86,344.82" fill="#1a1a1a"/>
<polygon points="382.85,406.6 383.55,407.93 385.04,408.19 383.99,409.27 384.2,410.76 382.85,410.1 381.5,410.76 381.71,409.27 380.66,408.19 382.15,407.93" fill="#1a1a1a"/>
<polygon points="387.95,406.6 388.65,407.93 390.14,408.19 389.09,409.27 389.3,410.76 387.95,410.1 386.6,410.76 386.81,409.27 385.76,408.19 387.25,407.93" fill="#1a1a1a"/>
<rect x="509" y="279" width="2" height="135.7" fill="#8c8c8c"/>
<line x1="504.7" y1="414.2" x2="510.5" y2="414.2" stroke="#2b2b2b" stroke-width="1"/>
<text x="501.7" y="417.44" font-size="9" text-anchor="end" fill="#1a1a1a">0.0</text>
<line x1="504.7" y1="369.3" x2="510.5" y2="369.3" stroke="#2b2b2b" stroke-width="1"/>
<text x="501.7" y="372.54" font-size="9" text-anchor="end" fill="#1a1a1a">0.5</text>
<line x1="504.7" y1="324.4" x2="510.5" y2="324.4" stroke="#2b2b2b" stroke-width="1"/>
<text x="501.7" y="327.64" font-size="9" text-anchor="end" fill="#1a1a1a">1.0</text>
<line x1="504.7" y1="279.5" x2="510.5" y2="279.5" stroke="#2b2b2b" stroke-width="1"/>
<text x="501.7" y="282.74" font-size="9" text-anchor="end" fill="#1a1a1a">1.5</text>
<rect x="518.95" y="324.4" width="16.5" height="89.8" fill="#ff8000" stroke="#2a2a2a" stroke-width="0.8"/>
<rect x="544.25" y="336.52" width="16.5" height="77.68" fill="#ffff00" stroke="#2a2a2a" stroke-width="0.8"/>
<rect x="569.65" y="343.26" width="16.5" height="70.94" fill="#ffff00" stroke="#2a2a2a" stroke-width="0.8"/>
<rect x="594.95" y="354.3" width="16.5" height="59.9" fill="#ffff00" stroke="#2a2a2a" stroke-width="0.8"/>
<rect x="620.25" y="362.65" width="16.5" height="51.55" fill="#ffff00" stroke="#2a2a2a" stroke-width="0.8"/>
<line x1="510.5" y1="414.2" x2="645.7" y2="414.2" stroke="#2b2b2b" stroke-width="1"/>
<line x1="527.2" y1="414.2" x2="527.2" y2="419.4" stroke="#2b2b2b" stroke-width="1"/>
<line x1="552.5" y1="414.2" x2="552.5" y2="419.4" stroke="#2b2b2b" stroke-width="1"/>
<line x1="577.9" y1="414.2" x2="577.9" y2="419.4" stroke="#2b2b2b" stroke-width="1"/>
<line x1="603.2" y1="414.2" x2="603.2" y2="419.4" stroke="#2b2b2b" stroke-width="1"/>
<line x1="628.5" y1="414.2" x2="628.5" y2="419.4" stroke="#2b2b2b" stroke-width="1"/>
<text font-size="10" text-anchor="middle" fill="#1a1a1a" transform="translate(467.4 352.9) rotate(-90)">HIV-1 p24+ cells</text>
<text font-size="10" text-anchor="middle" fill="#1a1a1a" transform="translate(479.8 354.3) rotate(-90)">relative to untreated</text>
<text font-size="8.9" text-anchor="end" fill="#1a1a1a" transform="translate(527.4 426.2) rotate(-46)">No treatment</text>
<text font-size="8.5" text-anchor="end" fill="#1a1a1a" transform="translate(552.7 426.2) rotate(-46)">0.01ng/mL</text>
<text font-size="8.5" text-anchor="end" fill="#1a1a1a" transform="translate(578.1 426.2) rotate(-46)">0.1ng/mL</text>
<text font-size="8.5" text-anchor="end" fill="#1a1a1a" transform="translate(603.4 426.2) rotate(-46)">1.0ng/mL</text>
<text font-size="8.5" text-anchor="end" fill="#1a1a1a" transform="translate(628.7 426.2) rotate(-46)">10ng/mL</text>
<line x1="539.3" y1="461.5" x2="638.4" y2="461.5" stroke="#2b2b2b" stroke-width="1"/>
<text x="585.8" y="474.4" font-size="10" text-anchor="middle" fill="#1a1a1a">IL1B</text>
<circle cx="521.2" cy="324.4" r="1.9" fill="none" stroke="#1a1a1a" stroke-width="0.8"/>
<circle cx="525.1" cy="324.4" r="1.9" fill="none" stroke="#1a1a1a" stroke-width="0.8"/>
<circle cx="529.1" cy="324.4" r="1.9" fill="none" stroke="#1a1a1a" stroke-width="0.8"/>
<circle cx="533.1" cy="324.4" r="1.9" fill="none" stroke="#1a1a1a" stroke-width="0.8"/>
<circle cx="552.3" cy="318.9" r="1.9" fill="none" stroke="#1a1a1a" stroke-width="0.8"/>
<circle cx="552.3" cy="333.1" r="1.9" fill="none" stroke="#1a1a1a" stroke-width="0.8"/>
<circle cx="552.3" cy="343.5" r="1.9" fill="none" stroke="#1a1a1a" stroke-width="0.8"/>
<circle cx="552.3" cy="348.5" r="1.9" fill="none" stroke="#1a1a1a" stroke-width="0.8"/>
<circle cx="577.5" cy="323.4" r="1.9" fill="none" stroke="#1a1a1a" stroke-width="0.8"/>
<circle cx="577.5" cy="339.6" r="1.9" fill="none" stroke="#1a1a1a" stroke-width="0.8"/>
<circle cx="577.5" cy="349.3" r="1.9" fill="none" stroke="#1a1a1a" stroke-width="0.8"/>
<circle cx="577.5" cy="359.6" r="1.9" fill="none" stroke="#1a1a1a" stroke-width="0.8"/>
<circle cx="603.1" cy="337.9" r="1.9" fill="none" stroke="#1a1a1a" stroke-width="0.8"/>
<circle cx="603.1" cy="352" r="1.9" fill="none" stroke="#1a1a1a" stroke-width="0.8"/>
<circle cx="603.1" cy="359" r="1.9" fill="none" stroke="#1a1a1a" stroke-width="0.8"/>
<circle cx="603.1" cy="367.5" r="1.9" fill="none" stroke="#1a1a1a" stroke-width="0.8"/>
<circle cx="628.5" cy="349.3" r="1.9" fill="none" stroke="#1a1a1a" stroke-width="0.8"/>
<circle cx="628.5" cy="355.5" r="1.9" fill="none" stroke="#1a1a1a" stroke-width="0.8"/>
<circle cx="624.2" cy="372.2" r="1.9" fill="none" stroke="#1a1a1a" stroke-width="0.8"/>
<circle cx="632.9" cy="372.2" r="1.9" fill="none" stroke="#1a1a1a" stroke-width="0.8"/>
<line x1="552.3" y1="342.3" x2="552.3" y2="329.4" stroke="#1a1a1a" stroke-width="0.8"/>
<line x1="548.4" y1="329.4" x2="556.2" y2="329.4" stroke="#1a1a1a" stroke-width="0.8"/>
<line x1="548.4" y1="342.3" x2="556.2" y2="342.3" stroke="#1a1a1a" stroke-width="0.8"/>
<line x1="577.5" y1="350.7" x2="577.5" y2="335.2" stroke="#1a1a1a" stroke-width="0.8"/>
<line x1="573.6" y1="335.2" x2="581.4" y2="335.2" stroke="#1a1a1a" stroke-width="0.8"/>
<line x1="573.6" y1="350.7" x2="581.4" y2="350.7" stroke="#1a1a1a" stroke-width="0.8"/>
<line x1="603.1" y1="360.3" x2="603.1" y2="347.6" stroke="#1a1a1a" stroke-width="0.8"/>
<line x1="599.2" y1="347.6" x2="607" y2="347.6" stroke="#1a1a1a" stroke-width="0.8"/>
<line x1="599.2" y1="360.3" x2="607" y2="360.3" stroke="#1a1a1a" stroke-width="0.8"/>
<line x1="628.5" y1="368.4" x2="628.5" y2="356.4" stroke="#1a1a1a" stroke-width="0.8"/>
<line x1="624.6" y1="356.4" x2="632.4" y2="356.4" stroke="#1a1a1a" stroke-width="0.8"/>
<line x1="624.6" y1="368.4" x2="632.4" y2="368.4" stroke="#1a1a1a" stroke-width="0.8"/>
<polygon points="603.1,317.6 603.74,318.82 605.1,319.05 604.14,320.04 604.33,321.4 603.1,320.79 601.87,321.4 602.06,320.04 601.1,319.05 602.46,318.82" fill="#1a1a1a"/>
<polygon points="628.5,330 629.14,331.22 630.5,331.45 629.54,332.44 629.73,333.8 628.5,333.19 627.27,333.8 627.46,332.44 626.5,331.45 627.86,331.22" fill="#1a1a1a"/>
<rect x="83" y="524.5" width="2" height="127.4" fill="#7a7a7a"/>
<line x1="78.7" y1="651.4" x2="83.5" y2="651.4" stroke="#2b2b2b" stroke-width="1"/>
<text font-size="9" text-anchor="end" fill="#1a1a1a" transform="translate(77.1 654.64) scale(0.900 1.000)">0</text>
<line x1="78.7" y1="619.8" x2="83.5" y2="619.8" stroke="#2b2b2b" stroke-width="1"/>
<text font-size="9" text-anchor="end" fill="#1a1a1a" transform="translate(77.1 623.04) scale(0.900 1.000)">50</text>
<line x1="78.7" y1="588.2" x2="83.5" y2="588.2" stroke="#2b2b2b" stroke-width="1"/>
<text font-size="9" text-anchor="end" fill="#1a1a1a" transform="translate(77.1 591.44) scale(0.900 1.000)">100</text>
<line x1="78.7" y1="556.6" x2="83.5" y2="556.6" stroke="#2b2b2b" stroke-width="1"/>
<text font-size="9" text-anchor="end" fill="#1a1a1a" transform="translate(77.1 559.84) scale(0.900 1.000)">150</text>
<line x1="78.7" y1="525" x2="83.5" y2="525" stroke="#2b2b2b" stroke-width="1"/>
<text font-size="9" text-anchor="end" fill="#1a1a1a" transform="translate(77.1 528.24) scale(0.900 1.000)">200</text>
<rect x="91.1" y="588.2" width="13.8" height="63.2" fill="#ff8000" stroke="#222" stroke-width="0.8"/>
<rect x="112.3" y="605.39" width="13.8" height="46.01" fill="#0000c0" stroke="#222" stroke-width="0.8"/>
<rect x="133.7" y="591.11" width="13.8" height="60.29" fill="#808000" stroke="#222" stroke-width="0.8"/>
<rect x="155" y="598" width="13.8" height="53.4" fill="#0bc07b" stroke="#222" stroke-width="0.8"/>
<line x1="83.5" y1="651.4" x2="177" y2="651.4" stroke="#2b2b2b" stroke-width="1"/>
<line x1="98" y1="651.4" x2="98" y2="656.8" stroke="#2b2b2b" stroke-width="1"/>
<line x1="119.2" y1="651.4" x2="119.2" y2="656.8" stroke="#2b2b2b" stroke-width="1"/>
<line x1="140.6" y1="651.4" x2="140.6" y2="656.8" stroke="#2b2b2b" stroke-width="1"/>
<line x1="161.9" y1="651.4" x2="161.9" y2="656.8" stroke="#2b2b2b" stroke-width="1"/>
<text x="98" y="666.3" font-size="9.1" text-anchor="middle" fill="#1a1a1a">NT</text>
<text x="119.2" y="666.3" font-size="9.1" text-anchor="middle" fill="#1a1a1a">2d-</text>
<text x="140.6" y="666.3" font-size="9.1" text-anchor="middle" fill="#1a1a1a">0d</text>
<text x="161.9" y="666.3" font-size="9.1" text-anchor="middle" fill="#1a1a1a">2d+</text>
<text font-size="10" text-anchor="middle" fill="#1a1a1a" transform="translate(127.3 514.8) scale(0.980 1.000)">HIV-1 X4-NL4-3</text>
<text x="129.6" y="680.6" font-size="9.4" text-anchor="middle" fill="#1a1a1a">IL1B</text>
<rect x="198" y="524.5" width="2" height="127.4" fill="#626262"/>
<line x1="193.8" y1="651.4" x2="198.6" y2="651.4" stroke="#2b2b2b" stroke-width="1"/>
<line x1="193.8" y1="619.8" x2="198.6" y2="619.8" stroke="#2b2b2b" stroke-width="1"/>
<line x1="193.8" y1="588.2" x2="198.6" y2="588.2" stroke="#2b2b2b" stroke-width="1"/>
<line x1="193.8" y1="556.6" x2="198.6" y2="556.6" stroke="#2b2b2b" stroke-width="1"/>
<line x1="193.8" y1="525" x2="198.6" y2="525" stroke="#2b2b2b" stroke-width="1"/>
<rect x="205.9" y="588.2" width="13.8" height="63.2" fill="#ff8000" stroke="#222" stroke-width="0.8"/>
<rect x="227.1" y="616.32" width="13.8" height="35.08" fill="#0000c0" stroke="#222" stroke-width="0.8"/>
<rect x="248.5" y="589.78" width="13.8" height="61.62" fill="#808000" stroke="#222" stroke-width="0.8"/>
<rect x="269.9" y="585.29" width="13.8" height="66.11" fill="#0bc07b" stroke="#222" stroke-width="0.8"/>
<line x1="198.6" y1="651.4" x2="291.6" y2="651.4" stroke="#2b2b2b" stroke-width="1"/>
<line x1="212.8" y1="651.4" x2="212.8" y2="656.8" stroke="#2b2b2b" stroke-width="1"/>
<line x1="234" y1="651.4" x2="234" y2="656.8" stroke="#2b2b2b" stroke-width="1"/>
<line x1="255.4" y1="651.4" x2="255.4" y2="656.8" stroke="#2b2b2b" stroke-width="1"/>
<line x1="276.8" y1="651.4" x2="276.8" y2="656.8" stroke="#2b2b2b" stroke-width="1"/>
<text x="212.8" y="666.3" font-size="9.1" text-anchor="middle" fill="#1a1a1a">NT</text>
<text x="234" y="666.3" font-size="9.1" text-anchor="middle" fill="#1a1a1a">2d-</text>
<text x="255.4" y="666.3" font-size="9.1" text-anchor="middle" fill="#1a1a1a">0d</text>
<text x="276.8" y="666.3" font-size="9.1" text-anchor="middle" fill="#1a1a1a">2d+</text>
<text font-size="10" text-anchor="middle" fill="#1a1a1a" transform="translate(241.3 514.8) scale(0.980 1.000)">HIV-1 R5-CH058</text>
<text x="244.4" y="680.6" font-size="9.4" text-anchor="middle" fill="#1a1a1a">IL1B</text>
<rect x="401" y="524.5" width="2" height="127.4" fill="#999999"/>
<line x1="396.8" y1="651.4" x2="401.6" y2="651.4" stroke="#2b2b2b" stroke-width="1"/>
<text font-size="9" text-anchor="end" fill="#1a1a1a" transform="translate(395.2 654.64) scale(0.900 1.000)">0</text>
<line x1="396.8" y1="609.26" x2="401.6" y2="609.26" stroke="#2b2b2b" stroke-width="1"/>
<text font-size="9" text-anchor="end" fill="#1a1a1a" transform="translate(395.2 612.5) scale(0.900 1.000)">50</text>
<line x1="396.8" y1="567.13" x2="401.6" y2="567.13" stroke="#2b2b2b" stroke-width="1"/>
<text font-size="9" text-anchor="end" fill="#1a1a1a" transform="translate(395.2 570.37) scale(0.900 1.000)">100</text>
<line x1="396.8" y1="525" x2="401.6" y2="525" stroke="#2b2b2b" stroke-width="1"/>
<text font-size="9" text-anchor="end" fill="#1a1a1a" transform="translate(395.2 528.24) scale(0.900 1.000)">150</text>
<rect x="409.2" y="567.13" width="13.8" height="84.27" fill="#ff8000" stroke="#222" stroke-width="0.8"/>
<rect x="430.4" y="586.6" width="13.8" height="64.8" fill="#0000c0" stroke="#222" stroke-width="0.8"/>
<rect x="451.7" y="562.24" width="13.8" height="89.16" fill="#808000" stroke="#222" stroke-width="0.8"/>
<rect x="473.2" y="570.5" width="13.8" height="80.9" fill="#0bc07b" stroke="#222" stroke-width="0.8"/>
<line x1="401.6" y1="651.4" x2="494.9" y2="651.4" stroke="#2b2b2b" stroke-width="1"/>
<line x1="416.1" y1="651.4" x2="416.1" y2="656.8" stroke="#2b2b2b" stroke-width="1"/>
<line x1="437.3" y1="651.4" x2="437.3" y2="656.8" stroke="#2b2b2b" stroke-width="1"/>
<line x1="458.6" y1="651.4" x2="458.6" y2="656.8" stroke="#2b2b2b" stroke-width="1"/>
<line x1="480.1" y1="651.4" x2="480.1" y2="656.8" stroke="#2b2b2b" stroke-width="1"/>
<text x="416.1" y="666.3" font-size="9.1" text-anchor="middle" fill="#1a1a1a">NT</text>
<text x="437.3" y="666.3" font-size="9.1" text-anchor="middle" fill="#1a1a1a">2d-</text>
<text x="458.6" y="666.3" font-size="9.1" text-anchor="middle" fill="#1a1a1a">0d</text>
<text x="480.1" y="666.3" font-size="9.1" text-anchor="middle" fill="#1a1a1a">2d+</text>
<text font-size="10" text-anchor="middle" fill="#1a1a1a" transform="translate(444.75 514.8) scale(0.980 1.000)">HIV-1 X4-NL4-3</text>
<text x="447.65" y="680.6" font-size="9.4" text-anchor="middle" fill="#1a1a1a">IL1B</text>
<rect x="524" y="524.5" width="2" height="127.4" fill="#7a7a7a"/>
<line x1="520" y1="651.4" x2="524.8" y2="651.4" stroke="#2b2b2b" stroke-width="1"/>
<line x1="520" y1="619.8" x2="524.8" y2="619.8" stroke="#2b2b2b" stroke-width="1"/>
<line x1="520" y1="588.2" x2="524.8" y2="588.2" stroke="#2b2b2b" stroke-width="1"/>
<line x1="520" y1="556.6" x2="524.8" y2="556.6" stroke="#2b2b2b" stroke-width="1"/>
<line x1="520" y1="525" x2="524.8" y2="525" stroke="#2b2b2b" stroke-width="1"/>
<rect x="532" y="588.2" width="13.8" height="63.2" fill="#ff8000" stroke="#222" stroke-width="0.8"/>
<rect x="553.3" y="629.66" width="13.8" height="21.74" fill="#0000c0" stroke="#222" stroke-width="0.8"/>
<rect x="574.6" y="602.48" width="13.8" height="48.92" fill="#808000" stroke="#222" stroke-width="0.8"/>
<rect x="595.9" y="585.61" width="13.8" height="65.79" fill="#0bc07b" stroke="#222" stroke-width="0.8"/>
<line x1="524.8" y1="651.4" x2="617.7" y2="651.4" stroke="#2b2b2b" stroke-width="1"/>
<line x1="538.9" y1="651.4" x2="538.9" y2="656.8" stroke="#2b2b2b" stroke-width="1"/>
<line x1="560.2" y1="651.4" x2="560.2" y2="656.8" stroke="#2b2b2b" stroke-width="1"/>
<line x1="581.5" y1="651.4" x2="581.5" y2="656.8" stroke="#2b2b2b" stroke-width="1"/>
<line x1="602.8" y1="651.4" x2="602.8" y2="656.8" stroke="#2b2b2b" stroke-width="1"/>
<text x="538.9" y="666.3" font-size="9.1" text-anchor="middle" fill="#1a1a1a">NT</text>
<text x="560.2" y="666.3" font-size="9.1" text-anchor="middle" fill="#1a1a1a">2d-</text>
<text x="581.5" y="666.3" font-size="9.1" text-anchor="middle" fill="#1a1a1a">0d</text>
<text x="602.8" y="666.3" font-size="9.1" text-anchor="middle" fill="#1a1a1a">2d+</text>
<text font-size="10" text-anchor="middle" fill="#1a1a1a" transform="translate(567.7 514.8) scale(0.980 1.000)">HIV-1 R5-CH058</text>
<text x="570.55" y="680.6" font-size="9.4" text-anchor="middle" fill="#1a1a1a">IL1B</text>
<text font-size="9.8" text-anchor="middle" fill="#1a1a1a" transform="translate(55 590.4) rotate(-90)">Infectious yield (%)</text>
<text font-size="9.7" text-anchor="middle" fill="#1a1a1a" transform="translate(370.3 589.4) rotate(-90)">p24 antigen (%)</text>
<circle cx="92.4" cy="587.8" r="1.75" fill="none" stroke="#1a1a1a" stroke-width="0.8"/>
<circle cx="95.2" cy="587.8" r="1.75" fill="none" stroke="#1a1a1a" stroke-width="0.8"/>
<circle cx="98" cy="587.8" r="1.75" fill="none" stroke="#1a1a1a" stroke-width="0.8"/>
<circle cx="100.8" cy="587.8" r="1.75" fill="none" stroke="#1a1a1a" stroke-width="0.8"/>
<circle cx="103.6" cy="587.8" r="1.75" fill="none" stroke="#1a1a1a" stroke-width="0.8"/>
<circle cx="207.2" cy="588" r="1.75" fill="none" stroke="#1a1a1a" stroke-width="0.8"/>
<circle cx="210" cy="588" r="1.75" fill="none" stroke="#1a1a1a" stroke-width="0.8"/>
<circle cx="212.8" cy="588" r="1.75" fill="none" stroke="#1a1a1a" stroke-width="0.8"/>
<circle cx="215.6" cy="588" r="1.75" fill="none" stroke="#1a1a1a" stroke-width="0.8"/>
<circle cx="218.4" cy="588" r="1.75" fill="none" stroke="#1a1a1a" stroke-width="0.8"/>
<circle cx="410.5" cy="566.9" r="1.75" fill="none" stroke="#1a1a1a" stroke-width="0.8"/>
<circle cx="413.3" cy="566.9" r="1.75" fill="none" stroke="#1a1a1a" stroke-width="0.8"/>
<circle cx="416.1" cy="566.9" r="1.75" fill="none" stroke="#1a1a1a" stroke-width="0.8"/>
<circle cx="418.9" cy="566.9" r="1.75" fill="none" stroke="#1a1a1a" stroke-width="0.8"/>
<circle cx="421.7" cy="566.9" r="1.75" fill="none" stroke="#1a1a1a" stroke-width="0.8"/>
<circle cx="533.3" cy="587.9" r="1.75" fill="none" stroke="#1a1a1a" stroke-width="0.8"/>
<circle cx="536.1" cy="587.9" r="1.75" fill="none" stroke="#1a1a1a" stroke-width="0.8"/>
<circle cx="538.9" cy="587.9" r="1.75" fill="none" stroke="#1a1a1a" stroke-width="0.8"/>
<circle cx="541.7" cy="587.9" r="1.75" fill="none" stroke="#1a1a1a" stroke-width="0.8"/>
<circle cx="544.5" cy="587.9" r="1.75" fill="none" stroke="#1a1a1a" stroke-width="0.8"/>
<circle cx="114.1" cy="602.7" r="1.75" fill="none" stroke="#1a1a1a" stroke-width="0.8"/>
<circle cx="117.6" cy="604.5" r="1.75" fill="none" stroke="#1a1a1a" stroke-width="0.8"/>
<circle cx="121.1" cy="604.5" r="1.75" fill="none" stroke="#1a1a1a" stroke-width="0.8"/>
<circle cx="124.5" cy="603.1" r="1.75" fill="none" stroke="#1a1a1a" stroke-width="0.8"/>
<circle cx="114.1" cy="608.3" r="1.75" fill="none" stroke="#1a1a1a" stroke-width="0.8"/>
<circle cx="124.5" cy="607.3" r="1.75" fill="none" stroke="#1a1a1a" stroke-width="0.8"/>
<circle cx="140.5" cy="578.9" r="1.75" fill="none" stroke="#1a1a1a" stroke-width="0.8"/>
<circle cx="140.5" cy="587.9" r="1.75" fill="none" stroke="#1a1a1a" stroke-width="0.8"/>
<circle cx="140.5" cy="592.7" r="1.75" fill="none" stroke="#1a1a1a" stroke-width="0.8"/>
<circle cx="140.5" cy="596.9" r="1.75" fill="none" stroke="#1a1a1a" stroke-width="0.8"/>
<circle cx="140.5" cy="601.1" r="1.75" fill="none" stroke="#1a1a1a" stroke-width="0.8"/>
<circle cx="156.7" cy="585.5" r="1.75" fill="none" stroke="#1a1a1a" stroke-width="0.8"/>
<circle cx="162" cy="587.5" r="1.75" fill="none" stroke="#1a1a1a" stroke-width="0.8"/>
<circle cx="162" cy="603.1" r="1.75" fill="none" stroke="#1a1a1a" stroke-width="0.8"/>
<circle cx="156.7" cy="606.2" r="1.75" fill="none" stroke="#1a1a1a" stroke-width="0.8"/>
<circle cx="167.2" cy="605.6" r="1.75" fill="none" stroke="#1a1a1a" stroke-width="0.8"/>
<circle cx="233.9" cy="599.5" r="1.75" fill="none" stroke="#1a1a1a" stroke-width="0.8"/>
<circle cx="233.9" cy="609.5" r="1.75" fill="none" stroke="#1a1a1a" stroke-width="0.8"/>
<circle cx="229.1" cy="615.9" r="1.75" fill="none" stroke="#1a1a1a" stroke-width="0.8"/>
<circle cx="239.3" cy="619.7" r="1.75" fill="none" stroke="#1a1a1a" stroke-width="0.8"/>
<circle cx="233.9" cy="637.3" r="1.75" fill="none" stroke="#1a1a1a" stroke-width="0.8"/>
<circle cx="255.4" cy="563.4" r="1.75" fill="none" stroke="#1a1a1a" stroke-width="0.8"/>
<circle cx="250.1" cy="585.6" r="1.75" fill="none" stroke="#1a1a1a" stroke-width="0.8"/>
<circle cx="260.6" cy="584.4" r="1.75" fill="none" stroke="#1a1a1a" stroke-width="0.8"/>
<circle cx="250.4" cy="607.1" r="1.75" fill="none" stroke="#1a1a1a" stroke-width="0.8"/>
<circle cx="260.6" cy="607.1" r="1.75" fill="none" stroke="#1a1a1a" stroke-width="0.8"/>
<circle cx="276.7" cy="547.3" r="1.75" fill="none" stroke="#1a1a1a" stroke-width="0.8"/>
<circle cx="276.7" cy="562.1" r="1.75" fill="none" stroke="#1a1a1a" stroke-width="0.8"/>
<circle cx="276.7" cy="593.3" r="1.75" fill="none" stroke="#1a1a1a" stroke-width="0.8"/>
<circle cx="276.7" cy="609" r="1.75" fill="none" stroke="#1a1a1a" stroke-width="0.8"/>
<circle cx="276.7" cy="615.3" r="1.75" fill="none" stroke="#1a1a1a" stroke-width="0.8"/>
<circle cx="437.3" cy="555" r="1.75" fill="none" stroke="#1a1a1a" stroke-width="0.8"/>
<circle cx="437.3" cy="585.4" r="1.75" fill="none" stroke="#1a1a1a" stroke-width="0.8"/>
<circle cx="432.1" cy="595" r="1.75" fill="none" stroke="#1a1a1a" stroke-width="0.8"/>
<circle cx="442.6" cy="595" r="1.75" fill="none" stroke="#1a1a1a" stroke-width="0.8"/>
<circle cx="437.3" cy="604.3" r="1.75" fill="none" stroke="#1a1a1a" stroke-width="0.8"/>
<circle cx="458.7" cy="544.2" r="1.75" fill="none" stroke="#1a1a1a" stroke-width="0.8"/>
<circle cx="464.1" cy="561.5" r="1.75" fill="none" stroke="#1a1a1a" stroke-width="0.8"/>
<circle cx="453.4" cy="564.4" r="1.75" fill="none" stroke="#1a1a1a" stroke-width="0.8"/>
<circle cx="464.1" cy="566.8" r="1.75" fill="none" stroke="#1a1a1a" stroke-width="0.8"/>
<circle cx="458.7" cy="573.1" r="1.75" fill="none" stroke="#1a1a1a" stroke-width="0.8"/>
<circle cx="480.1" cy="556.7" r="1.75" fill="none" stroke="#1a1a1a" stroke-width="0.8"/>
<circle cx="485.4" cy="566.8" r="1.75" fill="none" stroke="#1a1a1a" stroke-width="0.8"/>
<circle cx="474.6" cy="569.3" r="1.75" fill="none" stroke="#1a1a1a" stroke-width="0.8"/>
<circle cx="485.4" cy="571.7" r="1.75" fill="none" stroke="#1a1a1a" stroke-width="0.8"/>
<circle cx="480.1" cy="587.4" r="1.75" fill="none" stroke="#1a1a1a" stroke-width="0.8"/>
<circle cx="554.8" cy="622.5" r="1.75" fill="none" stroke="#1a1a1a" stroke-width="0.8"/>
<circle cx="554.8" cy="626.9" r="1.75" fill="none" stroke="#1a1a1a" stroke-width="0.8"/>
<circle cx="565.4" cy="625.2" r="1.75" fill="none" stroke="#1a1a1a" stroke-width="0.8"/>
<circle cx="560.5" cy="631.3" r="1.75" fill="none" stroke="#1a1a1a" stroke-width="0.8"/>
<circle cx="560.5" cy="642.3" r="1.75" fill="none" stroke="#1a1a1a" stroke-width="0.8"/>
<circle cx="581.6" cy="585.5" r="1.75" fill="none" stroke="#1a1a1a" stroke-width="0.8"/>
<circle cx="576.3" cy="604.9" r="1.75" fill="none" stroke="#1a1a1a" stroke-width="0.8"/>
<circle cx="581.6" cy="605.8" r="1.75" fill="none" stroke="#1a1a1a" stroke-width="0.8"/>
<circle cx="586.9" cy="606.7" r="1.75" fill="none" stroke="#1a1a1a" stroke-width="0.8"/>
<circle cx="576.3" cy="610.2" r="1.75" fill="none" stroke="#1a1a1a" stroke-width="0.8"/>
<circle cx="602.8" cy="555.6" r="1.75" fill="none" stroke="#1a1a1a" stroke-width="0.8"/>
<circle cx="597.5" cy="592.2" r="1.75" fill="none" stroke="#1a1a1a" stroke-width="0.8"/>
<circle cx="608.1" cy="588.2" r="1.75" fill="none" stroke="#1a1a1a" stroke-width="0.8"/>
<circle cx="597.5" cy="596.6" r="1.75" fill="none" stroke="#1a1a1a" stroke-width="0.8"/>
<circle cx="608.1" cy="596.6" r="1.75" fill="none" stroke="#1a1a1a" stroke-width="0.8"/>
<line x1="119.2" y1="608" x2="119.2" y2="601.5" stroke="#1a1a1a" stroke-width="0.8"/>
<line x1="115.8" y1="601.5" x2="122.6" y2="601.5" stroke="#1a1a1a" stroke-width="0.8"/>
<line x1="115.8" y1="608" x2="122.6" y2="608" stroke="#1a1a1a" stroke-width="0.8"/>
<line x1="140.6" y1="594.8" x2="140.6" y2="587.2" stroke="#1a1a1a" stroke-width="0.8"/>
<line x1="137.2" y1="587.2" x2="144" y2="587.2" stroke="#1a1a1a" stroke-width="0.8"/>
<line x1="137.2" y1="594.8" x2="144" y2="594.8" stroke="#1a1a1a" stroke-width="0.8"/>
<line x1="161.9" y1="602.2" x2="161.9" y2="593.4" stroke="#1a1a1a" stroke-width="0.8"/>
<line x1="158.5" y1="593.4" x2="165.3" y2="593.4" stroke="#1a1a1a" stroke-width="0.8"/>
<line x1="158.5" y1="602.2" x2="165.3" y2="602.2" stroke="#1a1a1a" stroke-width="0.8"/>
<line x1="234" y1="622.4" x2="234" y2="610.3" stroke="#1a1a1a" stroke-width="0.8"/>
<line x1="230.6" y1="610.3" x2="237.4" y2="610.3" stroke="#1a1a1a" stroke-width="0.8"/>
<line x1="230.6" y1="622.4" x2="237.4" y2="622.4" stroke="#1a1a1a" stroke-width="0.8"/>
<line x1="255.4" y1="597.4" x2="255.4" y2="581.2" stroke="#1a1a1a" stroke-width="0.8"/>
<line x1="252" y1="581.2" x2="258.8" y2="581.2" stroke="#1a1a1a" stroke-width="0.8"/>
<line x1="252" y1="597.4" x2="258.8" y2="597.4" stroke="#1a1a1a" stroke-width="0.8"/>
<line x1="276.8" y1="598.2" x2="276.8" y2="572.3" stroke="#1a1a1a" stroke-width="0.8"/>
<line x1="273.4" y1="572.3" x2="280.2" y2="572.3" stroke="#1a1a1a" stroke-width="0.8"/>
<line x1="273.4" y1="598.2" x2="280.2" y2="598.2" stroke="#1a1a1a" stroke-width="0.8"/>
<line x1="437.3" y1="593.8" x2="437.3" y2="578.1" stroke="#1a1a1a" stroke-width="0.8"/>
<line x1="433.9" y1="578.1" x2="440.7" y2="578.1" stroke="#1a1a1a" stroke-width="0.8"/>
<line x1="433.9" y1="593.8" x2="440.7" y2="593.8" stroke="#1a1a1a" stroke-width="0.8"/>
<line x1="458.6" y1="566.4" x2="458.6" y2="557.5" stroke="#1a1a1a" stroke-width="0.8"/>
<line x1="455.2" y1="557.5" x2="462" y2="557.5" stroke="#1a1a1a" stroke-width="0.8"/>
<line x1="455.2" y1="566.4" x2="462" y2="566.4" stroke="#1a1a1a" stroke-width="0.8"/>
<line x1="480.1" y1="575.2" x2="480.1" y2="565.2" stroke="#1a1a1a" stroke-width="0.8"/>
<line x1="476.7" y1="565.2" x2="483.5" y2="565.2" stroke="#1a1a1a" stroke-width="0.8"/>
<line x1="476.7" y1="575.2" x2="483.5" y2="575.2" stroke="#1a1a1a" stroke-width="0.8"/>
<line x1="560.2" y1="632.6" x2="560.2" y2="626.6" stroke="#1a1a1a" stroke-width="0.8"/>
<line x1="556.8" y1="626.6" x2="563.6" y2="626.6" stroke="#1a1a1a" stroke-width="0.8"/>
<line x1="556.8" y1="632.6" x2="563.6" y2="632.6" stroke="#1a1a1a" stroke-width="0.8"/>
<line x1="581.5" y1="604.9" x2="581.5" y2="598.2" stroke="#1a1a1a" stroke-width="0.8"/>
<line x1="578.1" y1="598.2" x2="584.9" y2="598.2" stroke="#1a1a1a" stroke-width="0.8"/>
<line x1="578.1" y1="604.9" x2="584.9" y2="604.9" stroke="#1a1a1a" stroke-width="0.8"/>
<line x1="602.8" y1="592.6" x2="602.8" y2="578.1" stroke="#1a1a1a" stroke-width="0.8"/>
<line x1="599.4" y1="578.1" x2="606.2" y2="578.1" stroke="#1a1a1a" stroke-width="0.8"/>
<line x1="599.4" y1="592.6" x2="606.2" y2="592.6" stroke="#1a1a1a" stroke-width="0.8"/>
<polygon points="119.7,588.2 120.31,589.36 121.6,589.58 120.69,590.52 120.88,591.82 119.7,591.24 118.52,591.82 118.71,590.52 117.8,589.58 119.09,589.36" fill="#1a1a1a"/>
<polygon points="119.7,583.9 120.31,585.06 121.6,585.28 120.69,586.22 120.88,587.52 119.7,586.94 118.52,587.52 118.71,586.22 117.8,585.28 119.09,585.06" fill="#1a1a1a"/>
<polygon points="119.7,579.6 120.31,580.76 121.6,580.98 120.69,581.92 120.88,583.22 119.7,582.64 118.52,583.22 118.71,581.92 117.8,580.98 119.09,580.76" fill="#1a1a1a"/>
<polygon points="119.7,575.3 120.31,576.46 121.6,576.68 120.69,577.62 120.88,578.92 119.7,578.34 118.52,578.92 118.71,577.62 117.8,576.68 119.09,576.46" fill="#1a1a1a"/>
<polygon points="234.4,589.7 235.01,590.86 236.3,591.08 235.39,592.02 235.58,593.32 234.4,592.74 233.22,593.32 233.41,592.02 232.5,591.08 233.79,590.86" fill="#1a1a1a"/>
<polygon points="234.4,585.2 235.01,586.36 236.3,586.58 235.39,587.52 235.58,588.82 234.4,588.24 233.22,588.82 233.41,587.52 232.5,586.58 233.79,586.36" fill="#1a1a1a"/>
<polygon points="560.5,600.3 561.11,601.46 562.4,601.68 561.49,602.62 561.68,603.92 560.5,603.34 559.32,603.92 559.51,602.62 558.6,601.68 559.89,601.46" fill="#1a1a1a"/>
<polygon points="560.5,595.9 561.11,597.06 562.4,597.28 561.49,598.22 561.68,599.52 560.5,598.94 559.32,599.52 559.51,598.22 558.6,597.28 559.89,597.06" fill="#1a1a1a"/>
<polygon points="560.5,591.5 561.11,592.66 562.4,592.88 561.49,593.82 561.68,595.12 560.5,594.54 559.32,595.12 559.51,593.82 558.6,592.88 559.89,592.66" fill="#1a1a1a"/>
<polygon points="560.5,587.1 561.11,588.26 562.4,588.48 561.49,589.42 561.68,590.72 560.5,590.14 559.32,590.72 559.51,589.42 558.6,588.48 559.89,588.26" fill="#1a1a1a"/>
<polygon points="437.3,541.6 437.94,542.82 439.3,543.05 438.34,544.04 438.53,545.4 437.3,544.79 436.07,545.4 436.26,544.04 435.3,543.05 436.66,542.82" fill="#1a1a1a"/>
<polygon points="581.6,544.6 582.24,545.82 583.6,546.05 582.64,547.04 582.83,548.4 581.6,547.79 580.37,548.4 580.56,547.04 579.6,546.05 580.96,545.82" fill="#1a1a1a"/>
</svg></body></html>
